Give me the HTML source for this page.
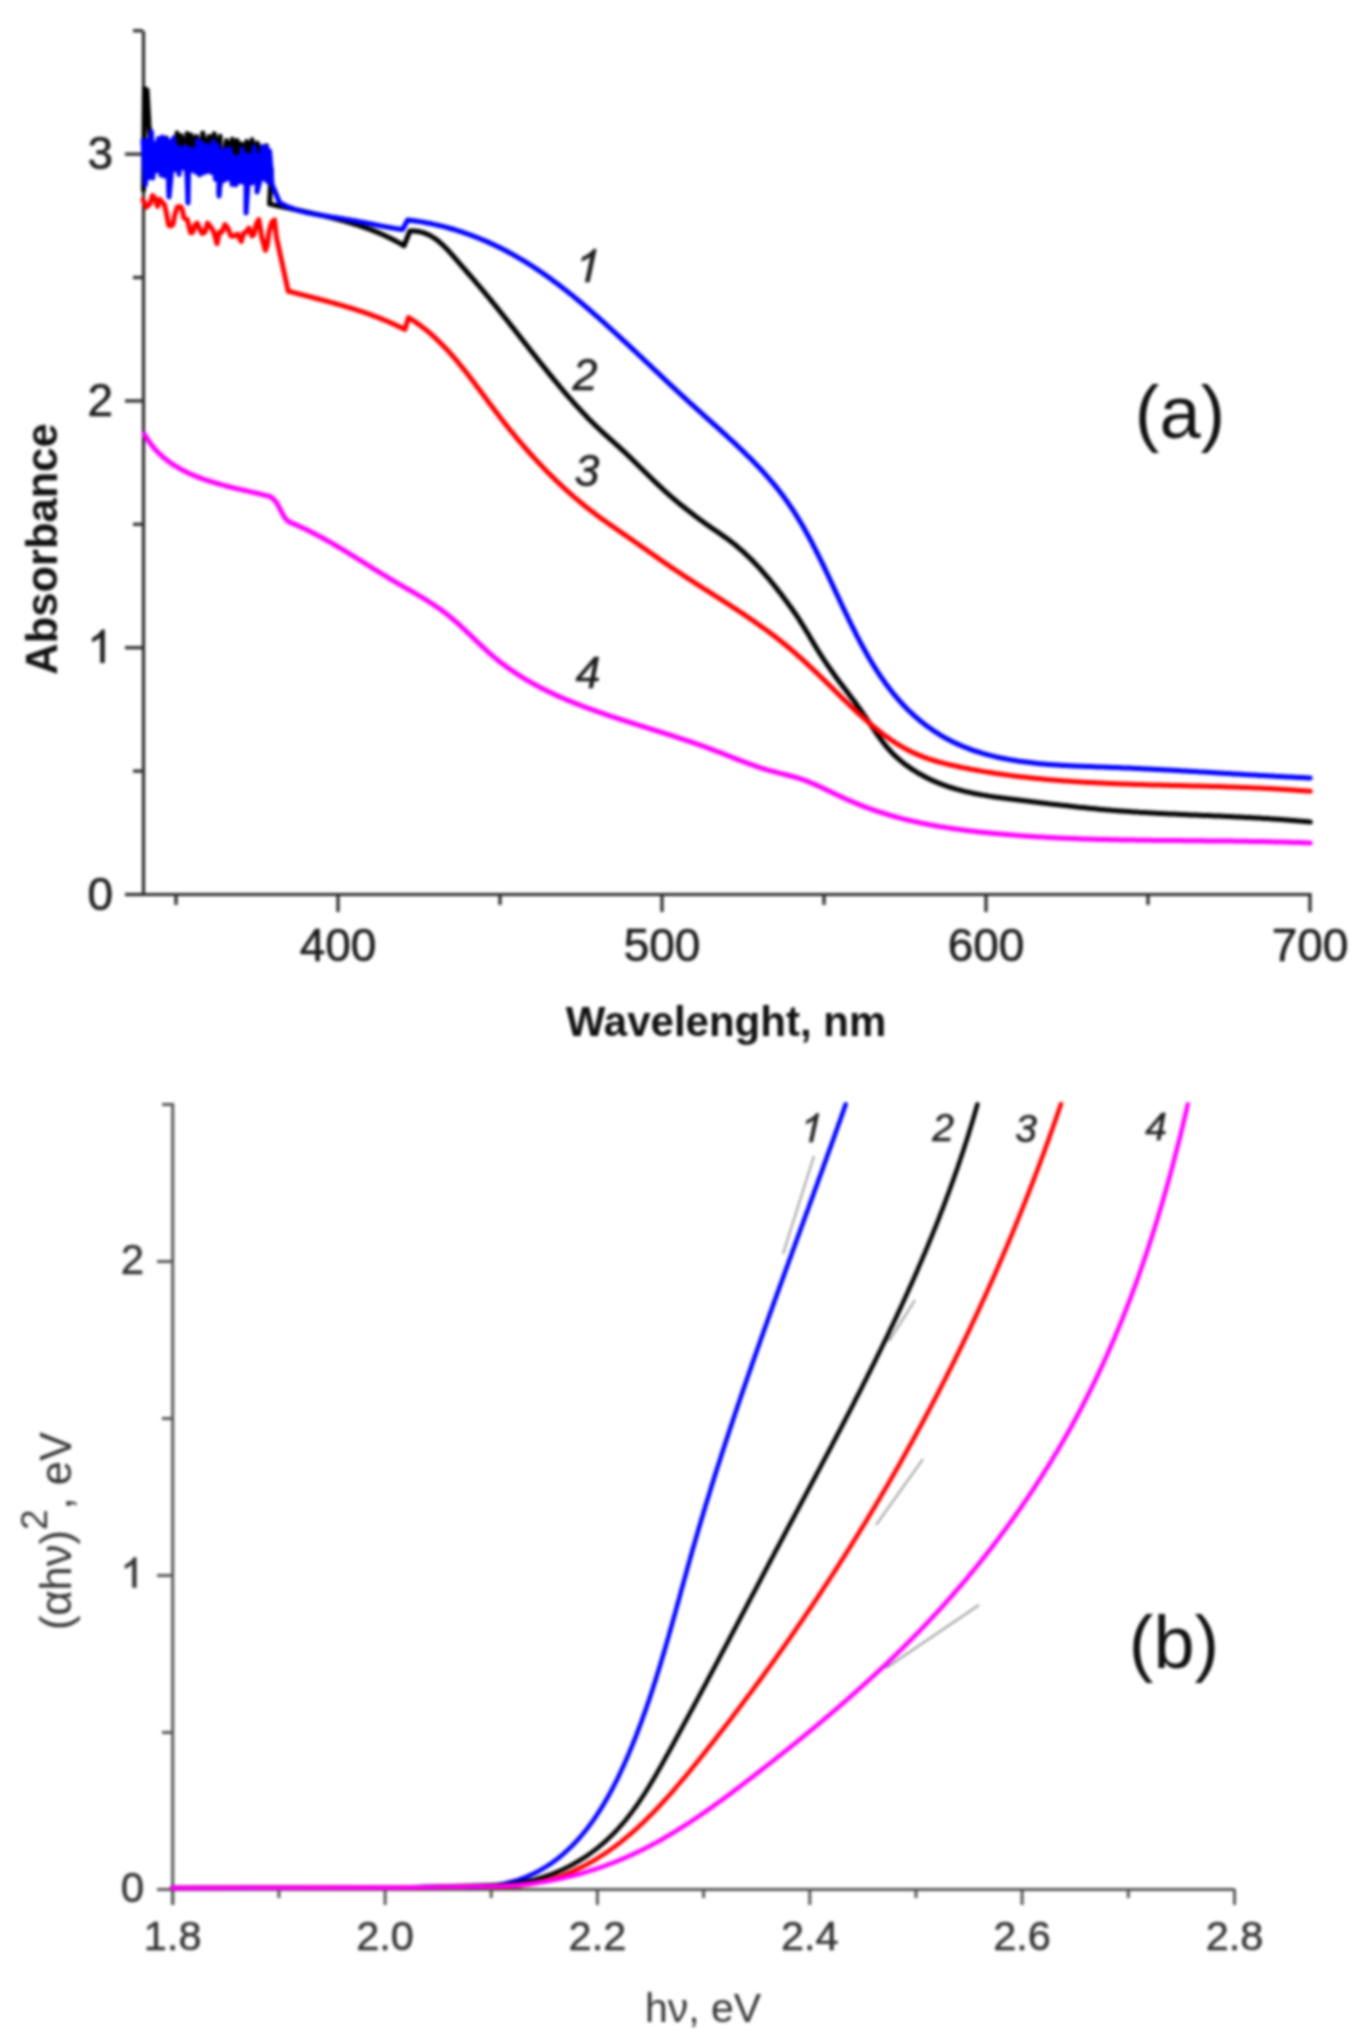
<!DOCTYPE html>
<html><head><meta charset="utf-8"><title>Absorbance spectra</title>
<style>html,body{margin:0;padding:0;background:#fff;}svg{display:block;filter:blur(1.5px);}</style>
</head><body>
<svg width="1364" height="2038" viewBox="0 0 1364 2038">
<rect width="1364" height="2038" fill="#ffffff"/>
<g stroke="#2a2a2a" stroke-width="3.2" fill="none" stroke-linecap="butt">
<path d="M143.5,31 V896 M125,894.5 H1311.5"/>
<path d="M125,894.5 H143"/>
<path d="M125,647.7 H143"/>
<path d="M125,400.9 H143"/>
<path d="M125,154.1 H143"/>
<path d="M133,771.1 H143"/>
<path d="M133,524.3 H143"/>
<path d="M133,277.5 H143"/>
<path d="M133,30.7 H143"/>
<path d="M338.0,894 V912"/>
<path d="M662.0,894 V912"/>
<path d="M986.0,894 V912"/>
<path d="M1310.0,894 V912"/>
<path d="M176.0,894 V905"/>
<path d="M500.0,894 V905"/>
<path d="M824.0,894 V905"/>
<path d="M1148.0,894 V905"/>
</g>
<path d="M144.4,434.2 L145.5,436.0 L146.6,437.8 L147.7,439.6 L148.9,441.3 L150.1,443.0 L151.3,444.6 L152.6,446.2 L153.9,447.8 L155.2,449.3 L156.5,450.8 L157.9,452.2 L159.3,453.6 L160.8,454.9 L162.2,456.3 L163.7,457.6 L165.2,458.8 L166.8,460.0 L168.3,461.2 L169.9,462.4 L171.5,463.5 L173.2,464.6 L174.8,465.7 L176.5,466.7 L178.2,467.7 L179.9,468.7 L181.6,469.6 L183.4,470.6 L185.2,471.5 L186.9,472.3 L188.7,473.2 L190.6,474.0 L192.4,474.8 L194.2,475.6 L196.1,476.3 L198.0,477.1 L199.8,477.8 L201.7,478.5 L203.6,479.2 L205.6,479.8 L207.5,480.5 L209.4,481.1 L211.4,481.7 L213.3,482.3 L215.3,482.9 L217.2,483.5 L219.2,484.0 L221.2,484.6 L223.1,485.1 L225.1,485.7 L227.1,486.2 L229.1,486.7 L231.1,487.2 L233.0,487.7 L235.0,488.2 L237.0,488.6 L239.0,489.1 L241.0,489.6 L243.0,490.0 L244.9,490.5 L246.9,490.9 L248.9,491.4 L250.8,491.9 L252.8,492.3 L254.7,492.8 L256.7,493.2 L258.6,493.7 L260.5,494.1 L262.4,494.6 L264.3,495.1 L266.2,495.5 L268.1,496.0 L270.0,496.5 L271.8,497.7 L273.4,499.0 L274.8,500.4 L276.0,502.0 L277.1,503.7 L278.1,505.4 L279.1,507.2 L280.0,509.1 L280.9,510.9 L281.9,512.7 L282.8,514.5 L283.9,516.3 L285.1,517.9 L286.4,519.5 L287.9,520.9 L289.6,522.2 L291.4,522.9 L293.2,523.7 L295.0,524.4 L296.8,525.2 L298.6,526.0 L300.4,526.8 L302.2,527.6 L304.0,528.5 L305.8,529.3 L307.6,530.2 L309.4,531.1 L311.1,532.0 L312.9,532.9 L314.7,533.8 L316.5,534.7 L318.2,535.6 L320.0,536.6 L321.8,537.5 L323.5,538.5 L325.3,539.5 L327.0,540.5 L328.8,541.4 L330.6,542.4 L332.3,543.4 L334.1,544.5 L335.8,545.5 L337.5,546.5 L339.3,547.5 L341.0,548.6 L342.8,549.6 L344.5,550.7 L346.2,551.7 L348.0,552.8 L349.7,553.9 L351.4,554.9 L353.2,556.0 L354.9,557.1 L356.6,558.1 L358.3,559.2 L360.1,560.3 L361.8,561.3 L363.5,562.4 L365.2,563.5 L367.0,564.6 L368.7,565.6 L370.4,566.7 L372.1,567.8 L373.8,568.9 L375.5,569.9 L377.3,571.0 L379.0,572.0 L380.7,573.1 L382.4,574.2 L384.1,575.2 L385.8,576.2 L387.5,577.3 L389.2,578.3 L391.0,579.3 L392.7,580.3 L394.4,581.4 L396.1,582.4 L397.8,583.4 L399.5,584.3 L401.2,585.3 L402.9,586.3 L404.6,587.3 L406.3,588.3 L408.0,589.3 L409.7,590.2 L411.4,591.2 L413.1,592.2 L414.8,593.2 L416.5,594.2 L418.2,595.1 L419.9,596.1 L421.5,597.1 L423.2,598.1 L424.9,599.2 L426.5,600.2 L428.2,601.2 L429.8,602.3 L431.5,603.3 L433.1,604.4 L434.7,605.5 L436.4,606.6 L438.0,607.7 L439.6,608.8 L441.2,609.9 L442.8,611.1 L444.3,612.3 L445.9,613.5 L447.5,614.7 L449.0,615.9 L450.6,617.2 L452.1,618.5 L453.6,619.8 L455.2,621.1 L456.7,622.4 L458.2,623.7 L459.7,625.1 L461.2,626.5 L462.7,627.9 L464.2,629.3 L465.6,630.7 L467.1,632.1 L468.6,633.5 L470.1,634.9 L471.6,636.3 L473.0,637.7 L474.5,639.2 L476.0,640.6 L477.5,642.0 L479.0,643.4 L480.5,644.8 L482.0,646.2 L483.5,647.6 L485.0,649.0 L486.5,650.4 L488.0,651.8 L489.5,653.1 L491.0,654.5 L492.6,655.8 L494.1,657.1 L495.7,658.4 L497.3,659.7 L498.9,661.0 L500.4,662.2 L502.0,663.4 L503.6,664.6 L505.3,665.8 L506.9,667.0 L508.5,668.2 L510.2,669.3 L511.8,670.5 L513.5,671.6 L515.1,672.7 L516.8,673.8 L518.5,674.9 L520.2,676.0 L521.9,677.0 L523.6,678.1 L525.3,679.1 L527.0,680.1 L528.7,681.1 L530.4,682.1 L532.2,683.1 L533.9,684.0 L535.7,685.0 L537.4,685.9 L539.2,686.9 L541.0,687.8 L542.7,688.7 L544.5,689.6 L546.3,690.5 L548.1,691.4 L549.9,692.2 L551.7,693.1 L553.5,693.9 L555.3,694.8 L557.1,695.6 L558.9,696.4 L560.7,697.2 L562.6,698.0 L564.4,698.8 L566.2,699.6 L568.1,700.4 L569.9,701.1 L571.8,701.9 L573.6,702.6 L575.5,703.4 L577.3,704.1 L579.2,704.8 L581.0,705.5 L582.9,706.3 L584.8,707.0 L586.6,707.7 L588.5,708.4 L590.4,709.0 L592.3,709.7 L594.1,710.4 L596.0,711.1 L597.9,711.7 L599.8,712.4 L601.7,713.0 L603.6,713.7 L605.4,714.3 L607.3,715.0 L609.2,715.6 L611.1,716.3 L613.0,716.9 L614.9,717.5 L616.8,718.1 L618.7,718.7 L620.6,719.4 L622.5,720.0 L624.4,720.6 L626.3,721.2 L628.1,721.8 L630.0,722.4 L631.9,723.0 L633.8,723.6 L635.7,724.2 L637.6,724.8 L639.5,725.4 L641.4,726.0 L643.3,726.6 L645.2,727.2 L647.1,727.8 L649.0,728.4 L650.9,729.0 L652.8,729.6 L654.7,730.2 L656.6,730.8 L658.5,731.4 L660.4,732.0 L662.3,732.6 L664.2,733.2 L666.1,733.8 L668.0,734.4 L669.9,735.0 L671.8,735.6 L673.7,736.2 L675.6,736.8 L677.5,737.5 L679.4,738.1 L681.3,738.7 L683.2,739.3 L685.1,740.0 L687.0,740.6 L688.9,741.2 L690.8,741.9 L692.7,742.5 L694.6,743.2 L696.5,743.9 L698.4,744.5 L700.3,745.2 L702.2,745.9 L704.0,746.5 L705.9,747.2 L707.8,747.9 L709.7,748.6 L711.6,749.3 L713.5,750.0 L715.4,750.8 L717.3,751.5 L719.2,752.2 L721.1,752.9 L723.0,753.7 L724.8,754.4 L726.7,755.2 L728.6,755.9 L730.5,756.6 L732.4,757.4 L734.3,758.1 L736.2,758.9 L738.0,759.6 L739.9,760.3 L741.8,761.0 L743.7,761.8 L745.6,762.5 L747.5,763.2 L749.3,763.9 L751.2,764.5 L753.1,765.2 L755.0,765.9 L756.9,766.5 L758.8,767.2 L760.6,767.8 L762.5,768.4 L764.4,769.0 L766.3,769.6 L768.2,770.1 L770.0,770.7 L771.9,771.2 L773.8,771.7 L775.7,772.2 L777.6,772.7 L779.4,773.1 L781.3,773.6 L783.2,774.1 L785.1,774.5 L787.0,775.0 L788.8,775.5 L790.7,776.0 L792.6,776.5 L794.5,777.0 L796.4,777.5 L798.2,778.1 L800.1,778.7 L802.0,779.3 L803.9,780.0 L805.8,780.7 L807.6,781.4 L809.5,782.2 L811.4,783.0 L813.3,783.8 L815.2,784.6 L817.0,785.4 L818.9,786.2 L820.8,787.1 L822.7,788.0 L824.6,788.9 L826.5,789.8 L828.3,790.7 L830.2,791.6 L832.1,792.5 L834.0,793.4 L835.9,794.3 L837.8,795.2 L839.7,796.1 L841.5,796.9 L843.4,797.8 L845.3,798.7 L847.2,799.5 L849.1,800.4 L851.0,801.2 L852.9,802.0 L854.8,802.8 L856.7,803.6 L858.6,804.3 L860.4,805.1 L862.3,805.8 L864.2,806.6 L866.1,807.3 L868.0,808.0 L869.9,808.7 L871.8,809.3 L873.7,810.0 L875.6,810.7 L877.5,811.3 L879.4,811.9 L881.3,812.5 L883.2,813.1 L885.1,813.7 L887.0,814.3 L888.9,814.9 L890.8,815.5 L892.7,816.0 L894.6,816.5 L896.5,817.1 L898.5,817.6 L900.4,818.1 L902.3,818.6 L904.2,819.1 L906.1,819.6 L908.0,820.0 L909.9,820.5 L911.8,820.9 L913.8,821.4 L915.7,821.8 L917.6,822.2 L919.5,822.7 L921.4,823.1 L923.4,823.5 L925.3,823.8 L927.2,824.2 L929.1,824.6 L931.1,825.0 L933.0,825.3 L934.9,825.7 L936.8,826.0 L938.8,826.4 L940.7,826.7 L942.6,827.0 L944.6,827.3 L946.5,827.6 L948.5,827.9 L950.4,828.2 L952.3,828.5 L954.3,828.8 L956.2,829.1 L958.2,829.3 L960.1,829.6 L962.1,829.9 L964.0,830.1 L966.0,830.4 L967.9,830.6 L969.9,830.9 L971.8,831.1 L973.8,831.3 L975.7,831.5 L977.7,831.8 L979.7,832.0 L981.6,832.2 L983.6,832.4 L985.6,832.6 L987.5,832.8 L989.5,833.0 L991.5,833.2 L993.5,833.4 L995.4,833.6 L997.4,833.8 L999.4,834.0 L1001.4,834.1 L1003.4,834.3 L1005.3,834.5 L1007.3,834.6 L1009.3,834.8 L1011.3,835.0 L1013.3,835.1 L1015.3,835.3 L1017.3,835.4 L1019.3,835.6 L1021.3,835.7 L1023.2,835.9 L1025.2,836.0 L1027.2,836.2 L1029.2,836.3 L1031.2,836.4 L1033.2,836.5 L1035.2,836.7 L1037.2,836.8 L1039.2,836.9 L1041.3,837.0 L1043.3,837.1 L1045.3,837.3 L1047.3,837.4 L1049.3,837.5 L1051.3,837.6 L1053.3,837.7 L1055.3,837.8 L1057.3,837.9 L1059.3,838.0 L1061.4,838.1 L1063.4,838.2 L1065.4,838.2 L1067.4,838.3 L1069.4,838.4 L1071.4,838.5 L1073.5,838.6 L1075.5,838.6 L1077.5,838.7 L1079.5,838.8 L1081.5,838.9 L1083.6,838.9 L1085.6,839.0 L1087.6,839.1 L1089.6,839.1 L1091.7,839.2 L1093.7,839.2 L1095.7,839.3 L1097.7,839.4 L1099.8,839.4 L1101.8,839.5 L1103.8,839.5 L1105.8,839.6 L1107.9,839.6 L1109.9,839.7 L1111.9,839.7 L1113.9,839.8 L1116.0,839.8 L1118.0,839.8 L1120.0,839.9 L1122.1,839.9 L1124.1,840.0 L1126.1,840.0 L1128.1,840.0 L1130.2,840.1 L1132.2,840.1 L1134.2,840.1 L1136.3,840.2 L1138.3,840.2 L1140.3,840.2 L1142.4,840.2 L1144.4,840.3 L1146.4,840.3 L1148.4,840.3 L1150.5,840.3 L1152.5,840.4 L1154.5,840.4 L1156.6,840.4 L1158.6,840.4 L1160.6,840.5 L1162.6,840.5 L1164.7,840.5 L1166.7,840.5 L1168.7,840.5 L1170.7,840.6 L1172.8,840.6 L1174.8,840.6 L1176.8,840.6 L1178.8,840.6 L1180.9,840.6 L1182.9,840.7 L1184.9,840.7 L1186.9,840.7 L1189.0,840.7 L1191.0,840.7 L1193.0,840.7 L1195.0,840.8 L1197.0,840.8 L1199.1,840.8 L1201.1,840.8 L1203.1,840.8 L1205.1,840.9 L1207.1,840.9 L1209.1,840.9 L1211.1,840.9 L1213.2,840.9 L1215.2,840.9 L1217.2,841.0 L1219.2,841.0 L1221.2,841.0 L1223.2,841.0 L1225.2,841.0 L1227.2,841.1 L1229.2,841.1 L1231.2,841.1 L1233.2,841.1 L1235.2,841.2 L1237.2,841.2 L1239.2,841.2 L1241.2,841.2 L1243.2,841.3 L1245.2,841.3 L1247.2,841.3 L1249.2,841.4 L1251.2,841.4 L1253.2,841.4 L1255.2,841.5 L1257.2,841.5 L1259.2,841.5 L1261.2,841.6 L1263.1,841.6 L1265.1,841.6 L1267.1,841.7 L1269.1,841.7 L1271.1,841.8 L1273.0,841.8 L1275.0,841.9 L1277.0,841.9 L1279.0,842.0 L1280.9,842.0 L1282.9,842.1 L1284.9,842.1 L1286.8,842.2 L1288.8,842.2 L1290.8,842.3 L1292.7,842.4 L1294.7,842.4 L1296.6,842.5 L1298.6,842.6 L1300.6,842.6 L1302.5,842.7 L1304.5,842.8 L1306.4,842.8 L1308.4,842.9 L1310.3,843.0" fill="none" stroke="#ff00ff" stroke-width="5.0" stroke-linejoin="round" stroke-linecap="round"/>
<path d="M143.5,190.0 L144.5,88.8 L147.0,90.0 L149.0,125.0 L151.0,147.1 L154.3,159.1 L156.3,144.3 L159.2,166.2 L161.5,140.4 L164.3,164.4 L166.4,138.1 L168.8,164.8 L169.0,191.0 L172.2,142.8 L174.8,160.5 L177.1,133.1 L178.9,159.3 L181.2,135.7 L184.5,157.9 L187.2,133.5 L189.0,154.5 L191.0,135.0 L194.4,157.0 L196.5,136.5 L199.6,157.3 L202.8,133.0 L205.9,153.4 L209.2,136.5 L211.3,159.8 L214.2,133.8 L216.9,159.3 L220.1,136.2 L219.0,193.0 L223.3,158.5 L226.5,140.6 L229.0,160.7 L232.3,139.2 L234.8,157.7 L237.2,140.6 L239.2,164.7 L241.5,143.9 L243.8,165.5 L246.7,141.4 L249.3,163.0 L252.1,139.7 L254.2,161.8 L257.5,143.1 L259.4,166.4 L262.4,147.1 L264.5,168.0 L266.4,145.8 L271.3,170.0 L269.5,204.0 L271.5,204.4 L273.4,204.9 L275.4,205.3 L277.4,205.8 L279.3,206.2 L281.3,206.6 L283.3,207.1 L285.3,207.5 L287.3,207.9 L289.2,208.3 L291.2,208.8 L293.2,209.2 L295.2,209.6 L297.2,210.0 L299.1,210.4 L301.1,210.8 L303.1,211.3 L305.1,211.7 L307.1,212.1 L309.0,212.5 L311.0,213.0 L313.0,213.4 L315.0,213.9 L316.9,214.3 L318.9,214.7 L320.9,215.2 L322.9,215.6 L324.8,216.1 L326.8,216.6 L328.8,217.0 L330.7,217.5 L332.7,218.0 L334.6,218.5 L336.6,219.0 L338.6,219.5 L340.5,220.0 L342.4,220.6 L344.4,221.1 L346.3,221.7 L348.3,222.2 L350.2,222.8 L352.1,223.4 L354.1,224.0 L356.0,224.6 L357.9,225.2 L359.8,225.8 L361.7,226.4 L363.6,227.1 L365.5,227.8 L367.4,228.5 L369.3,229.2 L371.2,229.9 L373.1,230.6 L374.9,231.3 L376.8,232.1 L378.7,232.9 L380.5,233.7 L382.4,234.5 L384.2,235.3 L386.0,236.2 L387.9,237.0 L389.7,237.9 L391.5,238.8 L393.3,239.7 L395.1,240.7 L396.9,241.6 L398.7,242.6 L400.5,243.6 L402.2,244.7 L404.0,245.7 L409.9,231.0 L412.1,230.9 L414.2,231.0 L416.2,231.2 L418.2,231.5 L420.1,231.8 L422.0,232.3 L423.9,232.9 L425.7,233.6 L427.5,234.3 L429.2,235.1 L430.9,236.0 L432.5,237.0 L434.1,238.0 L435.7,239.1 L437.3,240.3 L438.8,241.5 L440.3,242.8 L441.8,244.1 L443.2,245.4 L444.6,246.8 L446.0,248.2 L447.4,249.6 L448.8,251.1 L450.1,252.6 L451.5,254.1 L452.8,255.6 L454.1,257.1 L455.4,258.6 L456.7,260.1 L458.0,261.6 L459.3,263.1 L460.6,264.6 L461.9,266.1 L463.2,267.6 L464.5,269.0 L465.7,270.5 L467.0,272.0 L468.3,273.5 L469.6,274.9 L470.8,276.4 L472.1,277.9 L473.4,279.4 L474.7,280.9 L475.9,282.3 L477.2,283.8 L478.5,285.3 L479.8,286.8 L481.0,288.3 L482.3,289.8 L483.6,291.3 L484.8,292.8 L486.1,294.3 L487.3,295.9 L488.6,297.4 L489.9,298.9 L491.1,300.5 L492.4,302.0 L493.6,303.5 L494.9,305.1 L496.1,306.6 L497.4,308.2 L498.6,309.7 L499.9,311.3 L501.1,312.9 L502.4,314.4 L503.6,316.0 L504.9,317.6 L506.1,319.2 L507.4,320.7 L508.6,322.3 L509.9,323.9 L511.1,325.5 L512.4,327.1 L513.6,328.6 L514.8,330.2 L516.1,331.8 L517.3,333.4 L518.6,335.0 L519.8,336.6 L521.1,338.2 L522.3,339.8 L523.6,341.3 L524.8,342.9 L526.0,344.5 L527.3,346.1 L528.5,347.7 L529.8,349.3 L531.0,350.9 L532.3,352.5 L533.5,354.1 L534.8,355.6 L536.0,357.2 L537.3,358.8 L538.5,360.4 L539.8,362.0 L541.0,363.5 L542.3,365.1 L543.5,366.7 L544.8,368.2 L546.1,369.8 L547.3,371.4 L548.6,372.9 L549.8,374.5 L551.1,376.0 L552.4,377.6 L553.6,379.1 L554.9,380.7 L556.2,382.2 L557.4,383.7 L558.7,385.2 L560.0,386.8 L561.3,388.3 L562.5,389.8 L563.8,391.3 L565.1,392.8 L566.4,394.3 L567.7,395.8 L569.0,397.3 L570.2,398.7 L571.5,400.2 L572.8,401.7 L574.1,403.1 L575.4,404.6 L576.7,406.0 L578.1,407.5 L579.4,408.9 L580.7,410.4 L582.0,411.8 L583.4,413.2 L584.7,414.6 L586.1,416.0 L587.4,417.5 L588.8,418.9 L590.2,420.3 L591.6,421.7 L593.0,423.1 L594.4,424.5 L595.8,425.9 L597.3,427.2 L598.7,428.6 L600.2,430.0 L601.7,431.4 L603.2,432.8 L604.7,434.2 L606.2,435.5 L607.8,436.9 L609.3,438.3 L610.8,439.7 L612.4,441.0 L613.9,442.4 L615.5,443.8 L617.0,445.2 L618.5,446.5 L620.0,447.9 L621.5,449.3 L623.0,450.7 L624.5,452.0 L626.0,453.4 L627.4,454.8 L628.9,456.2 L630.3,457.6 L631.7,458.9 L633.1,460.3 L634.5,461.7 L635.9,463.1 L637.3,464.5 L638.7,465.8 L640.1,467.2 L641.5,468.6 L642.9,470.0 L644.3,471.3 L645.7,472.7 L647.1,474.1 L648.5,475.5 L649.9,476.8 L651.3,478.2 L652.7,479.6 L654.1,480.9 L655.5,482.3 L656.9,483.7 L658.4,485.0 L659.8,486.4 L661.3,487.7 L662.7,489.1 L664.2,490.4 L665.7,491.8 L667.2,493.1 L668.7,494.5 L670.2,495.8 L671.7,497.1 L673.3,498.4 L674.8,499.8 L676.4,501.1 L677.9,502.4 L679.5,503.7 L681.1,505.0 L682.7,506.3 L684.3,507.5 L685.9,508.8 L687.5,510.1 L689.1,511.3 L690.7,512.6 L692.3,513.8 L693.9,515.1 L695.5,516.3 L697.1,517.5 L698.8,518.7 L700.4,519.9 L702.0,521.1 L703.6,522.3 L705.2,523.5 L706.9,524.6 L708.5,525.8 L710.1,526.9 L711.7,528.0 L713.4,529.1 L715.0,530.2 L716.6,531.3 L718.2,532.4 L719.8,533.5 L721.4,534.6 L723.0,535.7 L724.6,536.9 L726.2,538.0 L727.8,539.1 L729.3,540.3 L730.9,541.5 L732.5,542.7 L734.0,543.9 L735.6,545.2 L737.1,546.5 L738.6,547.8 L740.1,549.1 L741.6,550.4 L743.1,551.7 L744.6,553.1 L746.1,554.5 L747.6,555.9 L749.0,557.3 L750.4,558.7 L751.9,560.1 L753.3,561.5 L754.7,563.0 L756.1,564.4 L757.4,565.9 L758.8,567.4 L760.1,568.8 L761.5,570.3 L762.8,571.8 L764.1,573.3 L765.4,574.8 L766.7,576.4 L768.0,577.9 L769.3,579.4 L770.6,581.0 L771.8,582.5 L773.1,584.1 L774.4,585.6 L775.6,587.2 L776.9,588.8 L778.1,590.4 L779.3,591.9 L780.6,593.5 L781.8,595.1 L783.0,596.7 L784.2,598.4 L785.4,600.0 L786.6,601.6 L787.8,603.2 L789.0,604.9 L790.2,606.5 L791.4,608.1 L792.5,609.8 L793.7,611.4 L794.8,613.1 L796.0,614.7 L797.1,616.4 L798.2,618.0 L799.3,619.7 L800.3,621.4 L801.4,623.1 L802.4,624.7 L803.5,626.4 L804.5,628.1 L805.5,629.8 L806.5,631.4 L807.6,633.1 L808.6,634.8 L809.6,636.5 L810.6,638.2 L811.6,639.9 L812.6,641.5 L813.6,643.2 L814.6,644.9 L815.6,646.6 L816.6,648.3 L817.7,650.0 L818.7,651.6 L819.8,653.3 L820.8,655.0 L821.9,656.7 L823.0,658.3 L824.1,660.0 L825.2,661.7 L826.3,663.3 L827.5,665.0 L828.6,666.7 L829.8,668.3 L830.9,670.0 L832.1,671.6 L833.3,673.3 L834.4,674.9 L835.6,676.5 L836.8,678.2 L838.0,679.8 L839.2,681.4 L840.4,683.0 L841.6,684.6 L842.8,686.2 L844.1,687.8 L845.3,689.4 L846.5,691.0 L847.7,692.6 L848.9,694.2 L850.1,695.8 L851.3,697.4 L852.5,699.0 L853.7,700.5 L854.9,702.1 L856.0,703.7 L857.2,705.3 L858.3,706.9 L859.5,708.5 L860.6,710.0 L861.7,711.6 L862.8,713.2 L863.9,714.8 L865.0,716.4 L866.1,718.0 L867.2,719.6 L868.3,721.2 L869.4,722.8 L870.5,724.5 L871.6,726.1 L872.7,727.7 L873.8,729.4 L874.9,731.0 L876.0,732.6 L877.1,734.3 L878.3,735.9 L879.4,737.5 L880.6,739.1 L881.8,740.7 L883.0,742.3 L884.3,743.9 L885.5,745.5 L886.8,747.0 L888.1,748.5 L889.5,750.0 L890.8,751.5 L892.2,753.0 L893.6,754.4 L895.1,755.8 L896.6,757.2 L898.1,758.5 L899.6,759.8 L901.2,761.2 L902.7,762.4 L904.3,763.7 L905.9,764.9 L907.6,766.1 L909.2,767.3 L910.9,768.4 L912.6,769.6 L914.3,770.7 L916.0,771.7 L917.8,772.8 L919.5,773.8 L921.3,774.8 L923.1,775.8 L924.9,776.7 L926.7,777.7 L928.5,778.6 L930.3,779.4 L932.1,780.3 L933.9,781.1 L935.8,781.9 L937.6,782.7 L939.4,783.4 L941.3,784.1 L943.1,784.8 L945.0,785.5 L946.9,786.1 L948.7,786.8 L950.6,787.4 L952.5,788.0 L954.4,788.5 L956.2,789.1 L958.1,789.6 L960.0,790.1 L961.9,790.6 L963.8,791.1 L965.8,791.6 L967.7,792.0 L969.6,792.4 L971.5,792.9 L973.4,793.3 L975.4,793.7 L977.3,794.0 L979.2,794.4 L981.2,794.8 L983.1,795.1 L985.1,795.4 L987.0,795.8 L989.0,796.1 L990.9,796.4 L992.9,796.7 L994.9,797.0 L996.8,797.2 L998.8,797.5 L1000.8,797.8 L1002.7,798.0 L1004.7,798.3 L1006.7,798.6 L1008.7,798.8 L1010.7,799.1 L1012.7,799.3 L1014.7,799.6 L1016.6,799.8 L1018.6,800.0 L1020.6,800.3 L1022.6,800.5 L1024.6,800.8 L1026.6,801.0 L1028.6,801.2 L1030.6,801.5 L1032.7,801.7 L1034.7,802.0 L1036.7,802.2 L1038.7,802.5 L1040.7,802.7 L1042.7,803.0 L1044.7,803.2 L1046.7,803.4 L1048.8,803.7 L1050.8,803.9 L1052.8,804.2 L1054.8,804.4 L1056.8,804.6 L1058.8,804.9 L1060.9,805.1 L1062.9,805.4 L1064.9,805.6 L1066.9,805.8 L1068.9,806.0 L1071.0,806.3 L1073.0,806.5 L1075.0,806.7 L1077.0,806.9 L1079.0,807.2 L1081.1,807.4 L1083.1,807.6 L1085.1,807.8 L1087.1,808.0 L1089.1,808.2 L1091.1,808.4 L1093.2,808.6 L1095.2,808.8 L1097.2,809.0 L1099.2,809.2 L1101.2,809.4 L1103.2,809.6 L1105.2,809.7 L1107.2,809.9 L1109.2,810.1 L1111.2,810.3 L1113.2,810.4 L1115.2,810.6 L1117.2,810.7 L1119.2,810.9 L1121.2,811.0 L1123.2,811.2 L1125.2,811.3 L1127.2,811.5 L1129.2,811.6 L1131.2,811.7 L1133.1,811.9 L1135.1,812.0 L1137.1,812.1 L1139.1,812.3 L1141.1,812.4 L1143.1,812.5 L1145.1,812.6 L1147.0,812.7 L1149.0,812.8 L1151.0,813.0 L1153.0,813.1 L1155.0,813.2 L1156.9,813.3 L1158.9,813.4 L1160.9,813.5 L1162.9,813.6 L1164.8,813.7 L1166.8,813.8 L1168.8,813.9 L1170.8,814.0 L1172.8,814.1 L1174.7,814.1 L1176.7,814.2 L1178.7,814.3 L1180.6,814.4 L1182.6,814.5 L1184.6,814.6 L1186.6,814.7 L1188.5,814.8 L1190.5,814.9 L1192.5,814.9 L1194.5,815.0 L1196.4,815.1 L1198.4,815.2 L1200.4,815.3 L1202.4,815.4 L1204.3,815.4 L1206.3,815.5 L1208.3,815.6 L1210.3,815.7 L1212.2,815.8 L1214.2,815.9 L1216.2,816.0 L1218.2,816.0 L1220.2,816.1 L1222.1,816.2 L1224.1,816.3 L1226.1,816.4 L1228.1,816.5 L1230.1,816.6 L1232.0,816.7 L1234.0,816.8 L1236.0,816.9 L1238.0,817.0 L1240.0,817.1 L1242.0,817.2 L1243.9,817.3 L1245.9,817.4 L1247.9,817.5 L1249.9,817.6 L1251.9,817.7 L1253.9,817.8 L1255.9,817.9 L1257.9,818.0 L1259.9,818.1 L1261.9,818.3 L1263.9,818.4 L1265.9,818.5 L1267.9,818.6 L1269.9,818.8 L1271.9,818.9 L1273.9,819.0 L1275.9,819.2 L1277.9,819.3 L1279.9,819.4 L1281.9,819.6 L1284.0,819.7 L1286.0,819.9 L1288.0,820.0 L1290.0,820.2 L1292.0,820.4 L1294.0,820.5 L1296.1,820.7 L1298.1,820.9 L1300.1,821.1 L1302.2,821.2 L1304.2,821.4 L1306.2,821.6 L1308.3,821.8 L1310.3,822.0" fill="none" stroke="#000000" stroke-width="5.0" stroke-linejoin="round" stroke-linecap="round"/>
<path d="M143.0,199.8 L146.5,207.1 L150.0,204.0 L152.5,195.5 L155.0,198.0 L157.6,206.4 L159.8,199.3 L162.0,202.0 L164.2,204.2 L166.4,213.0 L168.6,225.1 L170.8,226.0 L172.9,224.6 L175.0,214.0 L177.3,207.2 L179.6,206.4 L181.8,208.0 L184.0,218.0 L187.3,219.6 L190.6,232.7 L192.8,232.3 L195.0,225.0 L197.2,223.2 L199.4,228.3 L202.2,233.5 L205.0,232.0 L207.5,223.1 L210.0,226.0 L213.5,231.2 L217.0,243.7 L219.5,232.0 L222.0,232.0 L225.0,224.5 L228.0,228.3 L231.0,236.1 L234.0,236.0 L237.6,234.1 L241.2,241.5 L243.6,233.2 L246.0,232.0 L249.0,228.1 L252.0,236.0 L254.0,234.4 L256.0,225.0 L258.8,219.5 L262.0,238.0 L265.4,250.3 L267.2,245.4 L269.0,232.0 L272.0,221.7 L274.5,220.0 L276.4,237.0 L288.2,291.2 L290.2,291.7 L292.1,292.2 L294.1,292.7 L296.0,293.2 L298.0,293.7 L299.9,294.2 L301.9,294.7 L303.8,295.2 L305.8,295.7 L307.7,296.2 L309.7,296.7 L311.6,297.2 L313.6,297.7 L315.6,298.2 L317.5,298.8 L319.5,299.3 L321.4,299.8 L323.4,300.3 L325.3,300.8 L327.3,301.3 L329.2,301.9 L331.2,302.4 L333.1,302.9 L335.1,303.5 L337.0,304.0 L338.9,304.6 L340.9,305.1 L342.8,305.7 L344.8,306.3 L346.7,306.9 L348.6,307.4 L350.5,308.0 L352.5,308.6 L354.4,309.2 L356.3,309.8 L358.2,310.5 L360.1,311.1 L362.1,311.7 L364.0,312.4 L365.9,313.0 L367.8,313.7 L369.7,314.4 L371.6,315.1 L373.5,315.8 L375.3,316.5 L377.2,317.2 L379.1,317.9 L381.0,318.7 L382.8,319.4 L384.7,320.2 L386.6,321.0 L388.4,321.8 L390.3,322.6 L392.1,323.4 L394.0,324.2 L395.8,325.1 L397.6,325.9 L399.5,326.8 L401.3,327.7 L403.1,328.6 L404.9,329.5 L408.5,317.5 L410.2,318.6 L412.0,319.7 L413.6,320.8 L415.3,321.9 L417.0,323.1 L418.6,324.2 L420.2,325.4 L421.8,326.6 L423.4,327.9 L425.0,329.1 L426.5,330.3 L428.1,331.6 L429.6,332.9 L431.1,334.2 L432.6,335.5 L434.0,336.8 L435.5,338.2 L436.9,339.5 L438.3,340.9 L439.8,342.3 L441.2,343.7 L442.5,345.1 L443.9,346.5 L445.3,347.9 L446.6,349.3 L448.0,350.8 L449.3,352.2 L450.6,353.7 L451.9,355.2 L453.2,356.7 L454.5,358.2 L455.8,359.7 L457.1,361.2 L458.4,362.7 L459.6,364.2 L460.9,365.8 L462.2,367.3 L463.4,368.9 L464.6,370.4 L465.9,372.0 L467.1,373.5 L468.3,375.1 L469.6,376.7 L470.8,378.3 L472.0,379.9 L473.2,381.5 L474.4,383.1 L475.6,384.7 L476.8,386.3 L478.0,387.9 L479.2,389.5 L480.4,391.1 L481.6,392.7 L482.8,394.3 L484.0,395.9 L485.2,397.5 L486.4,399.1 L487.6,400.8 L488.8,402.4 L490.0,404.0 L491.2,405.6 L492.5,407.2 L493.7,408.8 L494.9,410.4 L496.1,412.0 L497.3,413.6 L498.5,415.2 L499.8,416.8 L501.0,418.4 L502.2,420.0 L503.5,421.6 L504.7,423.2 L506.0,424.8 L507.2,426.3 L508.5,427.9 L509.7,429.5 L511.0,431.1 L512.3,432.6 L513.6,434.2 L514.8,435.7 L516.1,437.3 L517.4,438.8 L518.7,440.3 L520.0,441.9 L521.3,443.4 L522.6,444.9 L523.9,446.5 L525.3,448.0 L526.6,449.5 L527.9,451.0 L529.2,452.5 L530.6,454.0 L531.9,455.5 L533.3,457.0 L534.6,458.4 L536.0,459.9 L537.3,461.4 L538.7,462.8 L540.1,464.3 L541.5,465.7 L542.8,467.2 L544.2,468.6 L545.6,470.1 L547.0,471.5 L548.4,472.9 L549.8,474.3 L551.2,475.7 L552.7,477.1 L554.1,478.5 L555.5,479.9 L556.9,481.3 L558.4,482.7 L559.8,484.0 L561.3,485.4 L562.7,486.8 L564.2,488.1 L565.7,489.5 L567.1,490.8 L568.6,492.1 L570.1,493.4 L571.6,494.8 L573.1,496.1 L574.6,497.4 L576.1,498.6 L577.6,499.9 L579.1,501.2 L580.7,502.5 L582.2,503.7 L583.7,505.0 L585.3,506.2 L586.8,507.5 L588.4,508.7 L589.9,509.9 L591.5,511.1 L593.1,512.3 L594.7,513.5 L596.3,514.7 L597.8,515.9 L599.4,517.1 L601.0,518.2 L602.6,519.4 L604.3,520.5 L605.9,521.7 L607.5,522.8 L609.1,524.0 L610.7,525.1 L612.4,526.3 L614.0,527.4 L615.6,528.5 L617.3,529.7 L618.9,530.8 L620.5,531.9 L622.2,533.1 L623.8,534.2 L625.5,535.3 L627.1,536.5 L628.8,537.6 L630.4,538.7 L632.1,539.9 L633.7,541.0 L635.4,542.2 L637.0,543.3 L638.7,544.5 L640.3,545.7 L642.0,546.8 L643.6,548.0 L645.3,549.1 L646.9,550.3 L648.6,551.5 L650.2,552.6 L651.9,553.8 L653.5,555.0 L655.2,556.1 L656.8,557.3 L658.5,558.4 L660.1,559.6 L661.8,560.8 L663.5,561.9 L665.1,563.1 L666.8,564.2 L668.5,565.3 L670.1,566.5 L671.8,567.6 L673.5,568.8 L675.1,569.9 L676.8,571.0 L678.5,572.1 L680.2,573.2 L681.8,574.3 L683.5,575.5 L685.2,576.6 L686.9,577.7 L688.6,578.8 L690.3,579.8 L691.9,580.9 L693.6,582.0 L695.3,583.1 L697.0,584.2 L698.7,585.3 L700.4,586.3 L702.0,587.4 L703.7,588.5 L705.4,589.6 L707.1,590.7 L708.8,591.7 L710.5,592.8 L712.2,593.9 L713.8,594.9 L715.5,596.0 L717.2,597.1 L718.9,598.2 L720.6,599.2 L722.2,600.3 L723.9,601.4 L725.6,602.5 L727.3,603.5 L728.9,604.6 L730.6,605.7 L732.3,606.8 L733.9,607.9 L735.6,609.0 L737.3,610.0 L738.9,611.1 L740.6,612.2 L742.2,613.3 L743.9,614.4 L745.5,615.5 L747.2,616.7 L748.8,617.8 L750.5,618.9 L752.1,620.0 L753.7,621.1 L755.4,622.3 L757.0,623.4 L758.6,624.6 L760.2,625.7 L761.9,626.9 L763.5,628.0 L765.1,629.2 L766.7,630.3 L768.3,631.5 L769.9,632.7 L771.5,633.9 L773.1,635.1 L774.6,636.3 L776.2,637.5 L777.8,638.7 L779.3,640.0 L780.9,641.2 L782.5,642.5 L784.0,643.7 L785.6,645.0 L787.1,646.2 L788.6,647.5 L790.2,648.8 L791.7,650.1 L793.2,651.4 L794.7,652.7 L796.2,654.0 L797.7,655.4 L799.2,656.7 L800.7,658.0 L802.2,659.4 L803.7,660.7 L805.2,662.1 L806.6,663.5 L808.1,664.8 L809.6,666.2 L811.0,667.6 L812.5,669.0 L814.0,670.3 L815.4,671.7 L816.9,673.1 L818.3,674.5 L819.8,675.9 L821.2,677.3 L822.7,678.7 L824.1,680.1 L825.5,681.5 L827.0,682.9 L828.4,684.3 L829.8,685.7 L831.3,687.1 L832.7,688.5 L834.1,689.9 L835.5,691.4 L837.0,692.8 L838.4,694.2 L839.8,695.6 L841.3,697.0 L842.7,698.4 L844.1,699.8 L845.6,701.1 L847.0,702.5 L848.4,703.9 L849.9,705.3 L851.3,706.7 L852.8,708.1 L854.2,709.4 L855.7,710.8 L857.1,712.2 L858.6,713.5 L860.1,714.9 L861.6,716.2 L863.1,717.5 L864.6,718.9 L866.1,720.2 L867.6,721.5 L869.1,722.8 L870.6,724.1 L872.1,725.4 L873.7,726.7 L875.2,728.0 L876.8,729.2 L878.4,730.5 L879.9,731.7 L881.5,733.0 L883.1,734.2 L884.7,735.4 L886.3,736.6 L888.0,737.7 L889.6,738.9 L891.2,740.0 L892.9,741.1 L894.6,742.2 L896.2,743.3 L897.9,744.4 L899.6,745.4 L901.3,746.4 L903.0,747.4 L904.8,748.4 L906.5,749.3 L908.2,750.2 L910.0,751.1 L911.8,752.0 L913.5,752.8 L915.3,753.6 L917.1,754.4 L919.0,755.2 L920.8,755.9 L922.6,756.6 L924.4,757.3 L926.3,758.0 L928.2,758.6 L930.0,759.3 L931.9,759.9 L933.8,760.5 L935.7,761.0 L937.6,761.6 L939.5,762.1 L941.4,762.6 L943.3,763.1 L945.2,763.6 L947.1,764.1 L949.1,764.6 L951.0,765.0 L952.9,765.5 L954.9,765.9 L956.8,766.3 L958.8,766.8 L960.7,767.2 L962.7,767.6 L964.6,768.0 L966.6,768.3 L968.5,768.7 L970.5,769.1 L972.5,769.5 L974.4,769.8 L976.4,770.2 L978.4,770.5 L980.3,770.9 L982.3,771.2 L984.3,771.6 L986.3,771.9 L988.2,772.2 L990.2,772.5 L992.2,772.8 L994.2,773.2 L996.2,773.5 L998.2,773.7 L1000.1,774.0 L1002.1,774.3 L1004.1,774.6 L1006.1,774.9 L1008.1,775.1 L1010.1,775.4 L1012.1,775.7 L1014.1,775.9 L1016.1,776.2 L1018.1,776.4 L1020.1,776.7 L1022.1,776.9 L1024.1,777.1 L1026.1,777.3 L1028.1,777.6 L1030.1,777.8 L1032.1,778.0 L1034.1,778.2 L1036.1,778.4 L1038.1,778.6 L1040.1,778.8 L1042.2,779.0 L1044.2,779.2 L1046.2,779.4 L1048.2,779.6 L1050.2,779.7 L1052.2,779.9 L1054.2,780.1 L1056.2,780.2 L1058.2,780.4 L1060.3,780.5 L1062.3,780.7 L1064.3,780.9 L1066.3,781.0 L1068.3,781.1 L1070.3,781.3 L1072.3,781.4 L1074.4,781.6 L1076.4,781.7 L1078.4,781.8 L1080.4,781.9 L1082.4,782.1 L1084.4,782.2 L1086.4,782.3 L1088.5,782.4 L1090.5,782.5 L1092.5,782.6 L1094.5,782.7 L1096.5,782.8 L1098.5,782.9 L1100.5,783.0 L1102.5,783.1 L1104.6,783.2 L1106.6,783.3 L1108.6,783.4 L1110.6,783.5 L1112.6,783.6 L1114.6,783.7 L1116.6,783.7 L1118.6,783.8 L1120.6,783.9 L1122.6,784.0 L1124.6,784.0 L1126.6,784.1 L1128.6,784.2 L1130.6,784.2 L1132.6,784.3 L1134.6,784.4 L1136.6,784.4 L1138.6,784.5 L1140.6,784.6 L1142.6,784.6 L1144.6,784.7 L1146.6,784.7 L1148.6,784.8 L1150.6,784.9 L1152.6,784.9 L1154.5,785.0 L1156.5,785.0 L1158.5,785.1 L1160.5,785.1 L1162.5,785.2 L1164.5,785.2 L1166.5,785.3 L1168.4,785.3 L1170.4,785.4 L1172.4,785.4 L1174.4,785.5 L1176.4,785.5 L1178.4,785.6 L1180.3,785.6 L1182.3,785.7 L1184.3,785.7 L1186.3,785.8 L1188.3,785.8 L1190.3,785.9 L1192.2,785.9 L1194.2,786.0 L1196.2,786.0 L1198.2,786.1 L1200.2,786.1 L1202.2,786.2 L1204.1,786.2 L1206.1,786.3 L1208.1,786.3 L1210.1,786.4 L1212.1,786.4 L1214.0,786.5 L1216.0,786.5 L1218.0,786.6 L1220.0,786.6 L1222.0,786.7 L1224.0,786.8 L1226.0,786.8 L1227.9,786.9 L1229.9,787.0 L1231.9,787.0 L1233.9,787.1 L1235.9,787.2 L1237.9,787.2 L1239.9,787.3 L1241.9,787.4 L1243.9,787.5 L1245.9,787.5 L1247.8,787.6 L1249.8,787.7 L1251.8,787.8 L1253.8,787.9 L1255.8,787.9 L1257.8,788.0 L1259.8,788.1 L1261.8,788.2 L1263.8,788.3 L1265.8,788.4 L1267.8,788.5 L1269.9,788.6 L1271.9,788.7 L1273.9,788.8 L1275.9,788.9 L1277.9,789.1 L1279.9,789.2 L1281.9,789.3 L1283.9,789.4 L1286.0,789.5 L1288.0,789.7 L1290.0,789.8 L1292.0,789.9 L1294.0,790.1 L1296.1,790.2 L1298.1,790.4 L1300.1,790.5 L1302.2,790.7 L1304.2,790.8 L1306.2,791.0 L1308.3,791.1 L1310.3,791.3" fill="none" stroke="#ff0000" stroke-width="5.0" stroke-linejoin="round" stroke-linecap="round"/>
<path d="M143.0,140.2 L145.4,184.7 L147.1,140.6 L149.1,177.8 L151.4,131.6 L152.8,177.9 L154.8,143.4 L156.2,170.9 L158.4,138.6 L161.0,175.0 L162.4,137.0 L164.5,176.2 L166.3,138.8 L168.2,165.5 L169.0,197.0 L169.9,141.2 L169.0,197.0 L171.9,168.5 L173.6,138.0 L175.5,169.7 L176.9,146.4 L179.0,174.4 L180.6,149.2 L183.1,168.0 L184.9,146.6 L187.1,178.2 L188.0,203.0 L189.0,148.8 L191.2,170.5 L193.3,149.7 L195.7,172.2 L197.8,140.4 L199.5,174.9 L201.4,142.4 L203.5,173.1 L205.7,145.0 L207.6,171.6 L210.0,146.7 L211.8,172.6 L213.3,141.5 L215.5,179.3 L217.6,145.6 L219.2,174.8 L219.0,196.0 L221.8,151.0 L223.9,180.6 L225.5,149.6 L228.1,178.8 L230.0,148.8 L232.1,184.5 L233.5,156.3 L235.9,184.9 L238.2,157.5 L240.2,181.9 L242.1,149.1 L244.5,182.8 L246.2,154.7 L246.0,213.0 L248.2,181.0 L250.0,155.5 L252.1,183.0 L254.1,147.3 L255.8,175.5 L257.9,155.1 L257.0,192.0 L260.2,179.9 L262.6,146.4 L265.0,179.2 L266.5,147.1 L267.9,182.0 L269.6,150.9 L272.0,184.4 L279.4,202.3 L281.2,203.4 L283.0,204.4 L284.8,205.3 L286.7,206.2 L288.5,207.0 L290.3,207.7 L292.2,208.4 L294.1,209.1 L295.9,209.7 L297.8,210.3 L299.7,210.9 L301.6,211.4 L303.5,211.8 L305.4,212.3 L307.3,212.7 L309.3,213.1 L311.2,213.5 L313.1,213.9 L315.1,214.2 L317.0,214.6 L319.0,214.9 L321.0,215.3 L322.9,215.6 L324.9,215.9 L326.9,216.2 L328.9,216.5 L330.8,216.9 L332.8,217.2 L334.8,217.5 L336.8,217.8 L338.8,218.1 L340.8,218.4 L342.8,218.7 L344.8,219.1 L346.8,219.4 L348.8,219.7 L350.8,220.1 L352.8,220.5 L354.8,220.8 L356.8,221.2 L358.9,221.6 L360.9,222.0 L362.9,222.3 L364.9,222.7 L366.9,223.1 L368.9,223.5 L370.9,223.9 L372.9,224.3 L374.9,224.7 L376.9,225.1 L378.9,225.5 L380.9,225.9 L382.9,226.2 L384.8,226.6 L386.8,227.0 L388.8,227.3 L390.8,227.7 L392.7,228.0 L394.7,228.4 L396.7,228.7 L398.6,229.0 L400.6,229.3 L402.5,229.6 L407.7,220.0 L409.7,220.2 L411.6,220.5 L413.6,220.7 L415.6,221.0 L417.5,221.3 L419.5,221.6 L421.5,221.9 L423.4,222.2 L425.4,222.6 L427.3,223.0 L429.3,223.3 L431.2,223.7 L433.2,224.1 L435.1,224.6 L437.1,225.0 L439.0,225.5 L440.9,225.9 L442.9,226.4 L444.8,226.9 L446.7,227.4 L448.6,228.0 L450.5,228.5 L452.5,229.0 L454.4,229.6 L456.3,230.2 L458.2,230.8 L460.1,231.4 L462.0,232.0 L463.9,232.7 L465.7,233.3 L467.6,234.0 L469.5,234.7 L471.4,235.3 L473.2,236.0 L475.1,236.8 L477.0,237.5 L478.8,238.2 L480.7,239.0 L482.5,239.8 L484.4,240.5 L486.2,241.3 L488.0,242.1 L489.8,242.9 L491.7,243.8 L493.5,244.6 L495.3,245.5 L497.1,246.3 L498.9,247.2 L500.7,248.1 L502.5,249.0 L504.2,249.9 L506.0,250.8 L507.8,251.8 L509.5,252.7 L511.3,253.6 L513.0,254.6 L514.8,255.6 L516.5,256.6 L518.2,257.6 L520.0,258.6 L521.7,259.6 L523.4,260.6 L525.1,261.7 L526.8,262.7 L528.5,263.8 L530.2,264.8 L531.8,265.9 L533.5,267.0 L535.2,268.1 L536.8,269.2 L538.5,270.3 L540.2,271.4 L541.8,272.6 L543.4,273.7 L545.1,274.8 L546.7,276.0 L548.3,277.1 L550.0,278.3 L551.6,279.5 L553.2,280.7 L554.8,281.9 L556.4,283.1 L558.0,284.3 L559.6,285.5 L561.2,286.7 L562.8,287.9 L564.3,289.1 L565.9,290.4 L567.5,291.6 L569.0,292.9 L570.6,294.1 L572.2,295.4 L573.7,296.6 L575.3,297.9 L576.8,299.2 L578.4,300.5 L579.9,301.7 L581.4,303.0 L583.0,304.3 L584.5,305.6 L586.0,306.9 L587.5,308.2 L589.1,309.5 L590.6,310.8 L592.1,312.1 L593.6,313.5 L595.1,314.8 L596.6,316.1 L598.1,317.4 L599.6,318.7 L601.1,320.1 L602.6,321.4 L604.1,322.7 L605.5,324.1 L607.0,325.4 L608.5,326.8 L610.0,328.1 L611.5,329.5 L612.9,330.8 L614.4,332.1 L615.9,333.5 L617.3,334.8 L618.8,336.2 L620.3,337.6 L621.7,338.9 L623.2,340.3 L624.7,341.6 L626.1,343.0 L627.6,344.3 L629.0,345.7 L630.5,347.1 L631.9,348.4 L633.4,349.8 L634.9,351.2 L636.3,352.5 L637.8,353.9 L639.2,355.3 L640.7,356.6 L642.1,358.0 L643.6,359.4 L645.0,360.8 L646.5,362.1 L647.9,363.5 L649.4,364.9 L650.8,366.2 L652.3,367.6 L653.7,369.0 L655.2,370.4 L656.6,371.7 L658.1,373.1 L659.5,374.5 L661.0,375.8 L662.4,377.2 L663.9,378.6 L665.3,380.0 L666.8,381.3 L668.3,382.7 L669.7,384.1 L671.2,385.4 L672.6,386.8 L674.1,388.2 L675.6,389.5 L677.0,390.9 L678.5,392.3 L680.0,393.6 L681.4,395.0 L682.9,396.3 L684.4,397.7 L685.9,399.1 L687.4,400.4 L688.8,401.8 L690.3,403.1 L691.8,404.5 L693.3,405.8 L694.8,407.2 L696.3,408.5 L697.8,409.9 L699.3,411.2 L700.8,412.6 L702.3,413.9 L703.8,415.3 L705.3,416.6 L706.8,418.0 L708.3,419.3 L709.8,420.7 L711.3,422.0 L712.8,423.3 L714.3,424.7 L715.8,426.0 L717.3,427.4 L718.8,428.7 L720.3,430.1 L721.8,431.5 L723.3,432.8 L724.8,434.2 L726.3,435.5 L727.8,436.9 L729.2,438.3 L730.7,439.6 L732.2,441.0 L733.7,442.4 L735.1,443.7 L736.6,445.1 L738.1,446.5 L739.5,447.9 L741.0,449.3 L742.4,450.7 L743.9,452.1 L745.3,453.5 L746.7,454.9 L748.1,456.3 L749.6,457.7 L751.0,459.1 L752.4,460.5 L753.8,462.0 L755.2,463.4 L756.5,464.8 L757.9,466.3 L759.3,467.7 L760.7,469.2 L762.0,470.7 L763.4,472.1 L764.7,473.6 L766.0,475.1 L767.3,476.6 L768.6,478.1 L769.9,479.6 L771.2,481.1 L772.5,482.6 L773.8,484.1 L775.0,485.6 L776.3,487.2 L777.5,488.7 L778.8,490.3 L780.0,491.8 L781.2,493.4 L782.4,495.0 L783.6,496.6 L784.7,498.2 L785.9,499.8 L787.0,501.4 L788.2,503.0 L789.3,504.7 L790.4,506.3 L791.5,507.9 L792.6,509.6 L793.7,511.2 L794.7,512.9 L795.8,514.6 L796.9,516.3 L797.9,518.0 L798.9,519.7 L800.0,521.4 L801.0,523.1 L802.0,524.8 L803.0,526.5 L804.0,528.2 L805.0,530.0 L805.9,531.7 L806.9,533.4 L807.9,535.2 L808.8,536.9 L809.8,538.7 L810.7,540.5 L811.7,542.2 L812.6,544.0 L813.5,545.8 L814.4,547.6 L815.3,549.3 L816.2,551.1 L817.1,552.9 L818.0,554.7 L818.9,556.5 L819.8,558.3 L820.7,560.1 L821.6,561.9 L822.5,563.7 L823.4,565.6 L824.2,567.4 L825.1,569.2 L826.0,571.0 L826.8,572.8 L827.7,574.7 L828.6,576.5 L829.4,578.3 L830.3,580.1 L831.1,582.0 L832.0,583.8 L832.8,585.6 L833.7,587.5 L834.5,589.3 L835.4,591.1 L836.2,593.0 L837.1,594.8 L838.0,596.6 L838.8,598.5 L839.7,600.3 L840.5,602.1 L841.4,603.9 L842.2,605.8 L843.1,607.6 L844.0,609.4 L844.8,611.3 L845.7,613.1 L846.6,614.9 L847.5,616.7 L848.3,618.5 L849.2,620.4 L850.1,622.2 L851.0,624.0 L851.9,625.8 L852.8,627.6 L853.7,629.4 L854.6,631.2 L855.5,633.0 L856.4,634.8 L857.3,636.6 L858.3,638.4 L859.2,640.2 L860.1,641.9 L861.1,643.7 L862.1,645.5 L863.0,647.3 L864.0,649.0 L865.0,650.8 L865.9,652.5 L866.9,654.3 L867.9,656.0 L868.9,657.7 L869.9,659.5 L871.0,661.2 L872.0,662.9 L873.0,664.6 L874.1,666.3 L875.2,668.0 L876.2,669.7 L877.3,671.4 L878.4,673.0 L879.5,674.7 L880.6,676.3 L881.7,678.0 L882.9,679.6 L884.0,681.2 L885.1,682.8 L886.3,684.4 L887.5,686.0 L888.7,687.6 L889.9,689.2 L891.1,690.7 L892.3,692.3 L893.6,693.8 L894.8,695.4 L896.1,696.9 L897.4,698.4 L898.7,699.9 L900.0,701.3 L901.3,702.8 L902.6,704.2 L904.0,705.7 L905.3,707.1 L906.7,708.5 L908.1,709.9 L909.5,711.3 L911.0,712.6 L912.4,714.0 L913.9,715.3 L915.3,716.6 L916.8,717.9 L918.3,719.2 L919.9,720.5 L921.4,721.7 L922.9,722.9 L924.5,724.2 L926.1,725.4 L927.7,726.5 L929.3,727.7 L930.9,728.8 L932.5,730.0 L934.2,731.1 L935.8,732.2 L937.5,733.2 L939.2,734.3 L940.9,735.3 L942.6,736.3 L944.3,737.3 L946.0,738.3 L947.7,739.2 L949.5,740.1 L951.2,741.0 L953.0,741.9 L954.8,742.8 L956.6,743.6 L958.4,744.4 L960.2,745.2 L962.0,746.0 L963.8,746.8 L965.6,747.5 L967.5,748.2 L969.3,748.9 L971.2,749.6 L973.0,750.3 L974.9,750.9 L976.8,751.5 L978.7,752.1 L980.6,752.7 L982.5,753.3 L984.4,753.8 L986.3,754.4 L988.2,754.9 L990.1,755.4 L992.1,755.9 L994.0,756.4 L996.0,756.8 L997.9,757.3 L999.9,757.7 L1001.8,758.1 L1003.8,758.5 L1005.8,758.9 L1007.8,759.3 L1009.7,759.6 L1011.7,760.0 L1013.7,760.3 L1015.7,760.6 L1017.7,761.0 L1019.7,761.3 L1021.7,761.5 L1023.8,761.8 L1025.8,762.1 L1027.8,762.3 L1029.8,762.6 L1031.8,762.8 L1033.9,763.0 L1035.9,763.3 L1037.9,763.5 L1040.0,763.7 L1042.0,763.9 L1044.1,764.0 L1046.1,764.2 L1048.1,764.4 L1050.2,764.5 L1052.2,764.7 L1054.3,764.8 L1056.3,765.0 L1058.4,765.1 L1060.4,765.2 L1062.5,765.4 L1064.5,765.5 L1066.6,765.6 L1068.6,765.7 L1070.7,765.8 L1072.7,765.9 L1074.8,766.0 L1076.9,766.1 L1078.9,766.2 L1081.0,766.3 L1083.0,766.3 L1085.0,766.4 L1087.1,766.5 L1089.1,766.6 L1091.2,766.6 L1093.2,766.7 L1095.3,766.8 L1097.3,766.9 L1099.3,766.9 L1101.4,767.0 L1103.4,767.1 L1105.4,767.2 L1107.4,767.2 L1109.5,767.3 L1111.5,767.4 L1113.5,767.5 L1115.5,767.5 L1117.5,767.6 L1119.5,767.7 L1121.5,767.8 L1123.5,767.9 L1125.5,767.9 L1127.5,768.0 L1129.5,768.1 L1131.5,768.2 L1133.5,768.3 L1135.4,768.4 L1137.4,768.5 L1139.4,768.6 L1141.4,768.7 L1143.3,768.8 L1145.3,768.9 L1147.3,769.0 L1149.2,769.1 L1151.2,769.2 L1153.2,769.3 L1155.1,769.4 L1157.1,769.5 L1159.1,769.6 L1161.0,769.7 L1163.0,769.8 L1164.9,769.9 L1166.9,770.0 L1168.8,770.1 L1170.8,770.2 L1172.8,770.3 L1174.7,770.4 L1176.7,770.5 L1178.6,770.6 L1180.6,770.7 L1182.5,770.9 L1184.5,771.0 L1186.4,771.1 L1188.4,771.2 L1190.3,771.3 L1192.3,771.4 L1194.2,771.5 L1196.2,771.6 L1198.1,771.8 L1200.1,771.9 L1202.0,772.0 L1204.0,772.1 L1205.9,772.2 L1207.9,772.3 L1209.8,772.5 L1211.8,772.6 L1213.7,772.7 L1215.7,772.8 L1217.6,772.9 L1219.6,773.0 L1221.6,773.2 L1223.5,773.3 L1225.5,773.4 L1227.4,773.5 L1229.4,773.6 L1231.4,773.7 L1233.3,773.9 L1235.3,774.0 L1237.3,774.1 L1239.3,774.2 L1241.2,774.3 L1243.2,774.4 L1245.2,774.6 L1247.2,774.7 L1249.2,774.8 L1251.2,774.9 L1253.2,775.0 L1255.2,775.1 L1257.1,775.2 L1259.1,775.4 L1261.1,775.5 L1263.2,775.6 L1265.2,775.7 L1267.2,775.8 L1269.2,775.9 L1271.2,776.0 L1273.2,776.1 L1275.3,776.3 L1277.3,776.4 L1279.3,776.5 L1281.4,776.6 L1283.4,776.7 L1285.4,776.8 L1287.5,776.9 L1289.5,777.0 L1291.6,777.1 L1293.7,777.2 L1295.7,777.3 L1297.8,777.4 L1299.9,777.5 L1301.9,777.6 L1304.0,777.7 L1306.1,777.8 L1308.2,777.9 L1310.3,778.0" fill="none" stroke="#0000ff" stroke-width="5.0" stroke-linejoin="round" stroke-linecap="round"/>
<g stroke="#555" stroke-width="3" fill="none">
<path d="M172.7,1103 V1905 M157,1889.5 H1234.5"/>
<path d="M157,1889.5 H172"/>
<path d="M157,1575.5 H172"/>
<path d="M157,1261.5 H172"/>
<path d="M162,1732.5 H172"/>
<path d="M162,1418.5 H172"/>
<path d="M162,1104.5 H172"/>
<path d="M172.7,1889 V1905"/>
<path d="M385.1,1889 V1905"/>
<path d="M597.4,1889 V1905"/>
<path d="M809.8,1889 V1905"/>
<path d="M1022.1,1889 V1905"/>
<path d="M1234.5,1889 V1905"/>
<path d="M278.9,1889 V1898"/>
<path d="M491.2,1889 V1898"/>
<path d="M703.6,1889 V1898"/>
<path d="M916.0,1889 V1898"/>
<path d="M1128.3,1889 V1898"/>
</g>
<line x1="783" y1="1254" x2="814" y2="1156" stroke="#8a8a8a" stroke-width="1.6"/>
<line x1="889" y1="1341" x2="915" y2="1300" stroke="#8a8a8a" stroke-width="1.6"/>
<line x1="876" y1="1525" x2="923" y2="1459" stroke="#8a8a8a" stroke-width="1.6"/>
<line x1="886" y1="1668" x2="979" y2="1605" stroke="#8a8a8a" stroke-width="1.6"/>
<path d="M172.0,1888.0 L400.0,1887.5 L460.0,1886.5 L462.4,1886.7 L464.7,1886.8 L467.0,1886.9 L469.3,1886.9 L471.6,1887.0 L473.8,1887.0 L476.1,1886.9 L478.3,1886.9 L480.5,1886.8 L482.7,1886.7 L484.8,1886.5 L487.0,1886.3 L489.1,1886.1 L491.2,1885.9 L493.3,1885.6 L495.3,1885.3 L497.4,1885.0 L499.4,1884.7 L501.4,1884.3 L503.4,1883.9 L505.3,1883.5 L507.3,1883.0 L509.2,1882.5 L511.1,1882.0 L513.0,1881.5 L514.9,1880.9 L516.8,1880.4 L518.6,1879.8 L520.4,1879.1 L522.2,1878.5 L524.0,1877.8 L525.8,1877.1 L527.6,1876.4 L529.3,1875.6 L531.0,1874.8 L532.7,1874.0 L534.4,1873.2 L536.1,1872.4 L537.8,1871.5 L539.4,1870.6 L541.0,1869.7 L542.6,1868.8 L544.2,1867.8 L545.8,1866.9 L547.4,1865.9 L548.9,1864.9 L550.5,1863.8 L552.0,1862.8 L553.5,1861.7 L555.0,1860.6 L556.5,1859.5 L557.9,1858.4 L559.4,1857.2 L560.8,1856.0 L562.2,1854.9 L563.6,1853.7 L565.0,1852.4 L566.4,1851.2 L567.8,1849.9 L569.1,1848.7 L570.5,1847.4 L571.8,1846.1 L573.1,1844.7 L574.4,1843.4 L575.7,1842.0 L576.9,1840.7 L578.2,1839.3 L579.5,1837.9 L580.7,1836.4 L581.9,1835.0 L583.1,1833.6 L584.3,1832.1 L585.5,1830.6 L586.7,1829.1 L587.9,1827.6 L589.0,1826.1 L590.2,1824.6 L591.3,1823.0 L592.4,1821.5 L593.5,1819.9 L594.6,1818.3 L595.7,1816.7 L596.8,1815.1 L597.8,1813.5 L598.9,1811.9 L599.9,1810.2 L601.0,1808.6 L602.0,1806.9 L603.0,1805.3 L604.0,1803.6 L605.0,1801.9 L606.0,1800.2 L607.0,1798.5 L608.0,1796.8 L608.9,1795.0 L609.9,1793.3 L610.8,1791.6 L611.8,1789.8 L612.7,1788.1 L613.6,1786.3 L614.5,1784.5 L615.4,1782.8 L616.3,1781.0 L617.2,1779.2 L618.1,1777.4 L619.0,1775.6 L619.8,1773.8 L620.7,1771.9 L621.5,1770.1 L622.4,1768.3 L623.2,1766.5 L624.0,1764.6 L624.8,1762.8 L625.7,1760.9 L626.5,1759.1 L627.3,1757.2 L628.1,1755.4 L628.9,1753.5 L629.6,1751.7 L630.4,1749.8 L631.2,1747.9 L632.0,1746.1 L632.7,1744.2 L633.5,1742.3 L634.2,1740.4 L635.0,1738.6 L635.7,1736.7 L636.5,1734.8 L637.2,1732.9 L637.9,1731.0 L638.6,1729.1 L639.3,1727.2 L640.0,1725.3 L640.8,1723.4 L641.5,1721.5 L642.1,1719.6 L642.8,1717.7 L643.5,1715.8 L644.2,1713.9 L644.9,1712.0 L645.6,1710.1 L646.2,1708.2 L646.9,1706.3 L647.5,1704.3 L648.2,1702.4 L648.9,1700.5 L649.5,1698.6 L650.1,1696.7 L650.8,1694.7 L651.4,1692.8 L652.1,1690.9 L652.7,1688.9 L653.3,1687.0 L653.9,1685.1 L654.6,1683.1 L655.2,1681.2 L655.8,1679.3 L656.4,1677.3 L657.0,1675.4 L657.6,1673.4 L658.2,1671.5 L658.8,1669.6 L659.4,1667.6 L660.0,1665.7 L660.6,1663.7 L661.2,1661.8 L661.7,1659.8 L662.3,1657.9 L662.9,1655.9 L663.5,1654.0 L664.1,1652.0 L664.6,1650.1 L665.2,1648.1 L665.8,1646.2 L666.3,1644.2 L666.9,1642.2 L667.5,1640.3 L668.0,1638.3 L668.6,1636.4 L669.1,1634.4 L669.7,1632.5 L670.2,1630.5 L670.8,1628.5 L671.3,1626.6 L671.9,1624.6 L672.4,1622.7 L673.0,1620.7 L673.5,1618.7 L674.1,1616.8 L674.6,1614.8 L675.2,1612.8 L675.7,1610.9 L676.3,1608.9 L676.8,1607.0 L677.3,1605.0 L677.9,1603.0 L678.4,1601.1 L679.0,1599.1 L679.5,1597.2 L680.0,1595.2 L680.6,1593.2 L681.1,1591.3 L681.6,1589.3 L682.2,1587.4 L682.7,1585.4 L683.3,1583.4 L683.8,1581.5 L684.3,1579.5 L684.9,1577.6 L685.4,1575.6 L686.0,1573.7 L686.5,1571.7 L687.0,1569.7 L687.6,1567.8 L688.1,1565.8 L688.7,1563.9 L689.2,1561.9 L689.8,1560.0 L690.3,1558.0 L690.8,1556.1 L691.4,1554.2 L691.9,1552.2 L692.5,1550.3 L693.0,1548.3 L693.6,1546.4 L694.2,1544.4 L694.7,1542.5 L695.3,1540.6 L695.8,1538.6 L696.4,1536.7 L697.0,1534.7 L697.5,1532.8 L698.1,1530.9 L698.6,1528.9 L699.2,1527.0 L699.8,1525.1 L700.4,1523.2 L700.9,1521.2 L701.5,1519.3 L702.1,1517.4 L702.7,1515.4 L703.2,1513.5 L703.8,1511.6 L704.4,1509.7 L705.0,1507.8 L705.5,1505.8 L706.1,1503.9 L706.7,1502.0 L707.3,1500.1 L707.9,1498.2 L708.5,1496.3 L709.1,1494.3 L709.7,1492.4 L710.2,1490.5 L710.8,1488.6 L711.4,1486.7 L712.0,1484.8 L712.6,1482.9 L713.2,1481.0 L713.8,1479.1 L714.4,1477.1 L715.0,1475.2 L715.6,1473.3 L716.2,1471.4 L716.8,1469.5 L717.4,1467.6 L718.0,1465.7 L718.7,1463.8 L719.3,1461.9 L719.9,1460.0 L720.5,1458.1 L721.1,1456.2 L721.7,1454.3 L722.3,1452.4 L722.9,1450.5 L723.6,1448.6 L724.2,1446.7 L724.8,1444.9 L725.4,1443.0 L726.0,1441.1 L726.6,1439.2 L727.3,1437.3 L727.9,1435.4 L728.5,1433.5 L729.1,1431.6 L729.8,1429.7 L730.4,1427.8 L731.0,1425.9 L731.7,1424.1 L732.3,1422.2 L732.9,1420.3 L733.5,1418.4 L734.2,1416.5 L734.8,1414.6 L735.4,1412.8 L736.1,1410.9 L736.7,1409.0 L737.4,1407.1 L738.0,1405.2 L738.6,1403.3 L739.3,1401.5 L739.9,1399.6 L740.5,1397.7 L741.2,1395.8 L741.8,1393.9 L742.5,1392.1 L743.1,1390.2 L743.8,1388.3 L744.4,1386.4 L745.1,1384.6 L745.7,1382.7 L746.4,1380.8 L747.0,1378.9 L747.6,1377.1 L748.3,1375.2 L749.0,1373.3 L749.6,1371.4 L750.3,1369.6 L750.9,1367.7 L751.6,1365.8 L752.2,1363.9 L752.9,1362.1 L753.5,1360.2 L754.2,1358.3 L754.8,1356.4 L755.5,1354.6 L756.2,1352.7 L756.8,1350.8 L757.5,1349.0 L758.1,1347.1 L758.8,1345.2 L759.5,1343.3 L760.1,1341.5 L760.8,1339.6 L761.4,1337.7 L762.1,1335.9 L762.8,1334.0 L763.4,1332.1 L764.1,1330.3 L764.8,1328.4 L765.4,1326.5 L766.1,1324.7 L766.8,1322.8 L767.4,1320.9 L768.1,1319.0 L768.8,1317.2 L769.4,1315.3 L770.1,1313.4 L770.8,1311.6 L771.5,1309.7 L772.1,1307.8 L772.8,1306.0 L773.5,1304.1 L774.1,1302.2 L774.8,1300.4 L775.5,1298.5 L776.2,1296.6 L776.8,1294.8 L777.5,1292.9 L778.2,1291.0 L778.9,1289.2 L779.5,1287.3 L780.2,1285.4 L780.9,1283.6 L781.6,1281.7 L782.3,1279.8 L782.9,1277.9 L783.6,1276.1 L784.3,1274.2 L785.0,1272.3 L785.6,1270.5 L786.3,1268.6 L787.0,1266.7 L787.7,1264.9 L788.4,1263.0 L789.0,1261.1 L789.7,1259.3 L790.4,1257.4 L791.1,1255.5 L791.8,1253.6 L792.4,1251.8 L793.1,1249.9 L793.8,1248.0 L794.5,1246.2 L795.2,1244.3 L795.9,1242.4 L796.5,1240.5 L797.2,1238.7 L797.9,1236.8 L798.6,1234.9 L799.3,1233.0 L800.0,1231.2 L800.6,1229.3 L801.3,1227.4 L802.0,1225.5 L802.7,1223.7 L803.4,1221.8 L804.1,1219.9 L804.7,1218.0 L805.4,1216.2 L806.1,1214.3 L806.8,1212.4 L807.5,1210.5 L808.2,1208.7 L808.9,1206.8 L809.5,1204.9 L810.2,1203.0 L810.9,1201.1 L811.6,1199.3 L812.3,1197.4 L813.0,1195.5 L813.7,1193.6 L814.3,1191.7 L815.0,1189.8 L815.7,1188.0 L816.4,1186.1 L817.1,1184.2 L817.8,1182.3 L818.4,1180.4 L819.1,1178.5 L819.8,1176.6 L820.5,1174.8 L821.2,1172.9 L821.9,1171.0 L822.6,1169.1 L823.2,1167.2 L823.9,1165.3 L824.6,1163.4 L825.3,1161.5 L826.0,1159.6 L826.7,1157.7 L827.3,1155.8 L828.0,1153.9 L828.7,1152.0 L829.4,1150.1 L830.1,1148.3 L830.8,1146.4 L831.4,1144.5 L832.1,1142.6 L832.8,1140.7 L833.5,1138.8 L834.2,1136.9 L834.8,1134.9 L835.5,1133.0 L836.2,1131.1 L836.9,1129.2 L837.6,1127.3 L838.2,1125.4 L838.9,1123.5 L839.6,1121.6 L840.3,1119.7 L841.0,1117.8 L841.6,1115.9 L842.3,1114.0 L843.0,1112.1 L843.7,1110.1 L844.3,1108.2 L845.0,1106.3 L845.7,1104.4" fill="none" stroke="#0000ff" stroke-width="4.5" stroke-linejoin="round" stroke-linecap="round"/>
<path d="M172.0,1888.0 L400.0,1887.5 L500.0,1885.0 L502.2,1884.9 L504.3,1884.7 L506.5,1884.5 L508.6,1884.3 L510.7,1884.1 L512.9,1883.8 L515.0,1883.6 L517.1,1883.3 L519.2,1882.9 L521.2,1882.6 L523.3,1882.2 L525.4,1881.8 L527.4,1881.3 L529.4,1880.9 L531.5,1880.4 L533.5,1879.9 L535.5,1879.4 L537.5,1878.8 L539.5,1878.2 L541.4,1877.7 L543.4,1877.0 L545.3,1876.4 L547.2,1875.7 L549.2,1875.0 L551.1,1874.3 L553.0,1873.6 L554.8,1872.9 L556.7,1872.1 L558.6,1871.3 L560.4,1870.5 L562.2,1869.7 L564.1,1868.8 L565.9,1868.0 L567.7,1867.1 L569.4,1866.2 L571.2,1865.2 L572.9,1864.3 L574.7,1863.3 L576.4,1862.3 L578.1,1861.3 L579.8,1860.3 L581.5,1859.3 L583.1,1858.2 L584.8,1857.2 L586.4,1856.1 L588.1,1855.0 L589.7,1853.8 L591.2,1852.7 L592.8,1851.5 L594.4,1850.4 L595.9,1849.2 L597.5,1848.0 L599.0,1846.8 L600.5,1845.5 L602.0,1844.3 L603.4,1843.0 L604.9,1841.8 L606.3,1840.5 L607.7,1839.2 L609.1,1837.8 L610.5,1836.5 L611.9,1835.2 L613.3,1833.8 L614.6,1832.4 L615.9,1831.1 L617.2,1829.7 L618.5,1828.3 L619.8,1826.8 L621.1,1825.4 L622.3,1824.0 L623.6,1822.5 L624.8,1821.1 L626.0,1819.6 L627.2,1818.1 L628.4,1816.6 L629.5,1815.1 L630.7,1813.6 L631.9,1812.0 L633.0,1810.5 L634.1,1809.0 L635.3,1807.4 L636.4,1805.9 L637.5,1804.3 L638.6,1802.7 L639.6,1801.1 L640.7,1799.5 L641.8,1797.9 L642.8,1796.3 L643.9,1794.7 L644.9,1793.1 L646.0,1791.4 L647.0,1789.8 L648.0,1788.1 L649.0,1786.5 L650.0,1784.8 L651.0,1783.2 L652.0,1781.5 L653.0,1779.8 L654.0,1778.2 L655.0,1776.5 L656.0,1774.8 L656.9,1773.1 L657.9,1771.4 L658.9,1769.7 L659.8,1768.0 L660.8,1766.3 L661.8,1764.6 L662.7,1762.9 L663.7,1761.2 L664.6,1759.4 L665.6,1757.7 L666.5,1756.0 L667.5,1754.3 L668.5,1752.6 L669.4,1750.8 L670.4,1749.1 L671.3,1747.4 L672.3,1745.6 L673.2,1743.9 L674.2,1742.2 L675.1,1740.4 L676.1,1738.7 L677.0,1736.9 L678.0,1735.2 L678.9,1733.5 L679.9,1731.7 L680.8,1730.0 L681.8,1728.2 L682.7,1726.5 L683.7,1724.7 L684.6,1723.0 L685.6,1721.2 L686.5,1719.5 L687.5,1717.7 L688.4,1715.9 L689.4,1714.2 L690.3,1712.4 L691.3,1710.7 L692.2,1708.9 L693.2,1707.1 L694.1,1705.4 L695.1,1703.6 L696.0,1701.8 L697.0,1700.1 L697.9,1698.3 L698.9,1696.5 L699.8,1694.7 L700.8,1693.0 L701.7,1691.2 L702.7,1689.4 L703.6,1687.6 L704.6,1685.9 L705.5,1684.1 L706.5,1682.3 L707.4,1680.5 L708.3,1678.7 L709.3,1677.0 L710.2,1675.2 L711.2,1673.4 L712.1,1671.6 L713.1,1669.8 L714.0,1668.0 L715.0,1666.3 L715.9,1664.5 L716.9,1662.7 L717.8,1660.9 L718.8,1659.1 L719.7,1657.3 L720.6,1655.5 L721.6,1653.7 L722.5,1651.9 L723.5,1650.1 L724.4,1648.4 L725.4,1646.6 L726.3,1644.8 L727.3,1643.0 L728.2,1641.2 L729.2,1639.4 L730.1,1637.6 L731.0,1635.8 L732.0,1634.0 L732.9,1632.2 L733.9,1630.4 L734.8,1628.6 L735.8,1626.8 L736.7,1625.0 L737.7,1623.2 L738.6,1621.4 L739.5,1619.6 L740.5,1617.8 L741.4,1616.0 L742.4,1614.2 L743.3,1612.4 L744.3,1610.6 L745.2,1608.8 L746.2,1607.0 L747.1,1605.2 L748.1,1603.4 L749.0,1601.6 L749.9,1599.8 L750.9,1598.0 L751.8,1596.2 L752.8,1594.4 L753.7,1592.7 L754.7,1590.9 L755.6,1589.1 L756.6,1587.3 L757.5,1585.5 L758.5,1583.7 L759.4,1581.9 L760.3,1580.1 L761.3,1578.3 L762.2,1576.5 L763.2,1574.7 L764.1,1572.9 L765.1,1571.1 L766.0,1569.3 L767.0,1567.5 L767.9,1565.7 L768.9,1563.9 L769.8,1562.1 L770.7,1560.4 L771.7,1558.6 L772.6,1556.8 L773.6,1555.0 L774.5,1553.2 L775.5,1551.4 L776.4,1549.6 L777.4,1547.8 L778.3,1546.1 L779.3,1544.3 L780.2,1542.5 L781.2,1540.7 L782.1,1538.9 L783.1,1537.1 L784.0,1535.4 L784.9,1533.6 L785.9,1531.8 L786.8,1530.0 L787.8,1528.2 L788.7,1526.5 L789.7,1524.7 L790.6,1522.9 L791.6,1521.1 L792.5,1519.4 L793.5,1517.6 L794.4,1515.8 L795.4,1514.0 L796.3,1512.3 L797.3,1510.5 L798.2,1508.7 L799.1,1506.9 L800.1,1505.2 L801.0,1503.4 L802.0,1501.6 L802.9,1499.8 L803.9,1498.1 L804.8,1496.3 L805.8,1494.5 L806.7,1492.8 L807.6,1491.0 L808.6,1489.2 L809.5,1487.5 L810.5,1485.7 L811.4,1483.9 L812.3,1482.2 L813.3,1480.4 L814.2,1478.6 L815.2,1476.8 L816.1,1475.1 L817.0,1473.3 L818.0,1471.5 L818.9,1469.8 L819.9,1468.0 L820.8,1466.2 L821.7,1464.5 L822.7,1462.7 L823.6,1461.0 L824.5,1459.2 L825.5,1457.4 L826.4,1455.7 L827.3,1453.9 L828.3,1452.1 L829.2,1450.4 L830.1,1448.6 L831.1,1446.8 L832.0,1445.1 L832.9,1443.3 L833.8,1441.5 L834.8,1439.8 L835.7,1438.0 L836.6,1436.2 L837.5,1434.5 L838.5,1432.7 L839.4,1430.9 L840.3,1429.2 L841.2,1427.4 L842.2,1425.6 L843.1,1423.9 L844.0,1422.1 L844.9,1420.4 L845.8,1418.6 L846.7,1416.8 L847.7,1415.1 L848.6,1413.3 L849.5,1411.5 L850.4,1409.8 L851.3,1408.0 L852.2,1406.2 L853.1,1404.5 L854.0,1402.7 L854.9,1400.9 L855.8,1399.1 L856.7,1397.4 L857.6,1395.6 L858.6,1393.8 L859.5,1392.1 L860.4,1390.3 L861.3,1388.5 L862.2,1386.8 L863.0,1385.0 L863.9,1383.2 L864.8,1381.4 L865.7,1379.7 L866.6,1377.9 L867.5,1376.1 L868.4,1374.4 L869.3,1372.6 L870.2,1370.8 L871.1,1369.0 L871.9,1367.3 L872.8,1365.5 L873.7,1363.7 L874.6,1361.9 L875.5,1360.1 L876.3,1358.4 L877.2,1356.6 L878.1,1354.8 L879.0,1353.0 L879.8,1351.2 L880.7,1349.5 L881.6,1347.7 L882.4,1345.9 L883.3,1344.1 L884.2,1342.3 L885.0,1340.6 L885.9,1338.8 L886.8,1337.0 L887.6,1335.2 L888.5,1333.4 L889.3,1331.6 L890.2,1329.8 L891.0,1328.0 L891.9,1326.3 L892.7,1324.5 L893.6,1322.7 L894.4,1320.9 L895.3,1319.1 L896.1,1317.3 L897.0,1315.5 L897.8,1313.7 L898.6,1311.9 L899.5,1310.1 L900.3,1308.3 L901.1,1306.5 L902.0,1304.7 L902.8,1302.9 L903.6,1301.1 L904.4,1299.3 L905.3,1297.5 L906.1,1295.7 L906.9,1293.9 L907.7,1292.1 L908.5,1290.3 L909.3,1288.5 L910.1,1286.7 L911.0,1284.8 L911.8,1283.0 L912.6,1281.2 L913.4,1279.4 L914.2,1277.6 L915.0,1275.8 L915.8,1274.0 L916.6,1272.1 L917.4,1270.3 L918.1,1268.5 L918.9,1266.7 L919.7,1264.9 L920.5,1263.0 L921.3,1261.2 L922.1,1259.4 L922.8,1257.5 L923.6,1255.7 L924.4,1253.9 L925.2,1252.1 L925.9,1250.2 L926.7,1248.4 L927.5,1246.6 L928.2,1244.7 L929.0,1242.9 L929.7,1241.0 L930.5,1239.2 L931.3,1237.4 L932.0,1235.5 L932.7,1233.7 L933.5,1231.8 L934.2,1230.0 L935.0,1228.1 L935.7,1226.3 L936.5,1224.4 L937.2,1222.6 L937.9,1220.7 L938.7,1218.9 L939.4,1217.0 L940.1,1215.1 L940.8,1213.3 L941.5,1211.4 L942.3,1209.6 L943.0,1207.7 L943.7,1205.8 L944.4,1204.0 L945.1,1202.1 L945.8,1200.2 L946.5,1198.3 L947.2,1196.5 L947.9,1194.6 L948.6,1192.7 L949.3,1190.8 L950.0,1189.0 L950.7,1187.1 L951.3,1185.2 L952.0,1183.3 L952.7,1181.4 L953.4,1179.5 L954.0,1177.6 L954.7,1175.7 L955.4,1173.9 L956.0,1172.0 L956.7,1170.1 L957.4,1168.2 L958.0,1166.3 L958.7,1164.4 L959.3,1162.4 L960.0,1160.5 L960.6,1158.6 L961.2,1156.7 L961.9,1154.8 L962.5,1152.9 L963.2,1151.0 L963.8,1149.1 L964.4,1147.1 L965.0,1145.2 L965.7,1143.3 L966.3,1141.4 L966.9,1139.4 L967.5,1137.5 L968.1,1135.6 L968.7,1133.6 L969.3,1131.7 L969.9,1129.8 L970.5,1127.8 L971.1,1125.9 L971.7,1123.9 L972.3,1122.0 L972.9,1120.1 L973.4,1118.1 L974.0,1116.2 L974.6,1114.2 L975.1,1112.2 L975.7,1110.3 L976.3,1108.3 L976.8,1106.4 L977.4,1104.4" fill="none" stroke="#000000" stroke-width="4.5" stroke-linejoin="round" stroke-linecap="round"/>
<path d="M172.0,1888.0 L400.0,1887.5 L490.0,1886.5 L492.3,1886.6 L494.5,1886.6 L496.7,1886.6 L498.9,1886.6 L501.1,1886.6 L503.3,1886.6 L505.5,1886.5 L507.6,1886.4 L509.8,1886.3 L511.9,1886.1 L514.0,1886.0 L516.2,1885.8 L518.2,1885.6 L520.3,1885.4 L522.4,1885.1 L524.5,1884.8 L526.5,1884.5 L528.5,1884.2 L530.6,1883.9 L532.6,1883.5 L534.6,1883.2 L536.5,1882.8 L538.5,1882.3 L540.5,1881.9 L542.4,1881.4 L544.4,1881.0 L546.3,1880.5 L548.2,1879.9 L550.1,1879.4 L552.0,1878.9 L553.9,1878.3 L555.7,1877.7 L557.6,1877.1 L559.4,1876.4 L561.3,1875.8 L563.1,1875.1 L564.9,1874.4 L566.7,1873.7 L568.5,1873.0 L570.3,1872.3 L572.1,1871.5 L573.9,1870.7 L575.6,1869.9 L577.4,1869.1 L579.1,1868.3 L580.8,1867.5 L582.5,1866.6 L584.2,1865.8 L585.9,1864.9 L587.6,1864.0 L589.3,1863.0 L591.0,1862.1 L592.6,1861.2 L594.3,1860.2 L595.9,1859.2 L597.6,1858.2 L599.2,1857.2 L600.8,1856.2 L602.4,1855.2 L604.0,1854.1 L605.6,1853.1 L607.2,1852.0 L608.8,1850.9 L610.4,1849.8 L611.9,1848.7 L613.5,1847.5 L615.0,1846.4 L616.6,1845.2 L618.1,1844.1 L619.6,1842.9 L621.1,1841.7 L622.6,1840.5 L624.1,1839.3 L625.6,1838.1 L627.1,1836.8 L628.6,1835.6 L630.1,1834.3 L631.6,1833.1 L633.0,1831.8 L634.5,1830.5 L635.9,1829.2 L637.4,1827.9 L638.8,1826.6 L640.2,1825.2 L641.7,1823.9 L643.1,1822.6 L644.5,1821.2 L645.9,1819.8 L647.3,1818.5 L648.7,1817.1 L650.1,1815.7 L651.5,1814.3 L652.9,1812.9 L654.2,1811.5 L655.6,1810.1 L657.0,1808.6 L658.3,1807.2 L659.7,1805.8 L661.0,1804.3 L662.4,1802.8 L663.7,1801.4 L665.1,1799.9 L666.4,1798.4 L667.7,1797.0 L669.1,1795.5 L670.4,1794.0 L671.7,1792.5 L673.0,1791.0 L674.3,1789.5 L675.6,1787.9 L676.9,1786.4 L678.2,1784.9 L679.5,1783.4 L680.8,1781.8 L682.1,1780.3 L683.4,1778.8 L684.7,1777.2 L686.0,1775.7 L687.3,1774.1 L688.6,1772.6 L689.8,1771.0 L691.1,1769.5 L692.4,1767.9 L693.6,1766.3 L694.9,1764.8 L696.2,1763.2 L697.4,1761.6 L698.7,1760.0 L700.0,1758.5 L701.2,1756.9 L702.5,1755.3 L703.7,1753.7 L705.0,1752.2 L706.2,1750.6 L707.5,1749.0 L708.7,1747.4 L710.0,1745.8 L711.2,1744.2 L712.5,1742.7 L713.7,1741.1 L715.0,1739.5 L716.2,1737.9 L717.4,1736.3 L718.7,1734.7 L719.9,1733.1 L721.1,1731.5 L722.4,1729.9 L723.6,1728.3 L724.8,1726.7 L726.1,1725.2 L727.3,1723.6 L728.5,1722.0 L729.8,1720.4 L731.0,1718.8 L732.2,1717.2 L733.4,1715.6 L734.6,1713.9 L735.9,1712.3 L737.1,1710.7 L738.3,1709.1 L739.5,1707.5 L740.7,1705.9 L741.9,1704.3 L743.1,1702.7 L744.3,1701.1 L745.5,1699.5 L746.7,1697.9 L747.9,1696.2 L749.2,1694.6 L750.4,1693.0 L751.5,1691.4 L752.7,1689.8 L753.9,1688.2 L755.1,1686.5 L756.3,1684.9 L757.5,1683.3 L758.7,1681.7 L759.9,1680.1 L761.1,1678.4 L762.3,1676.8 L763.5,1675.2 L764.6,1673.5 L765.8,1671.9 L767.0,1670.3 L768.2,1668.7 L769.3,1667.0 L770.5,1665.4 L771.7,1663.8 L772.9,1662.1 L774.0,1660.5 L775.2,1658.9 L776.4,1657.2 L777.5,1655.6 L778.7,1653.9 L779.9,1652.3 L781.0,1650.7 L782.2,1649.0 L783.3,1647.4 L784.5,1645.7 L785.7,1644.1 L786.8,1642.4 L788.0,1640.8 L789.1,1639.2 L790.3,1637.5 L791.4,1635.9 L792.5,1634.2 L793.7,1632.6 L794.8,1630.9 L796.0,1629.3 L797.1,1627.6 L798.3,1625.9 L799.4,1624.3 L800.5,1622.6 L801.7,1621.0 L802.8,1619.3 L803.9,1617.7 L805.0,1616.0 L806.2,1614.3 L807.3,1612.7 L808.4,1611.0 L809.5,1609.3 L810.7,1607.7 L811.8,1606.0 L812.9,1604.4 L814.0,1602.7 L815.1,1601.0 L816.2,1599.4 L817.4,1597.7 L818.5,1596.0 L819.6,1594.3 L820.7,1592.7 L821.8,1591.0 L822.9,1589.3 L824.0,1587.6 L825.1,1586.0 L826.2,1584.3 L827.3,1582.6 L828.4,1580.9 L829.5,1579.3 L830.6,1577.6 L831.7,1575.9 L832.8,1574.2 L833.8,1572.5 L834.9,1570.9 L836.0,1569.2 L837.1,1567.5 L838.2,1565.8 L839.3,1564.1 L840.3,1562.4 L841.4,1560.7 L842.5,1559.0 L843.6,1557.4 L844.6,1555.7 L845.7,1554.0 L846.8,1552.3 L847.8,1550.6 L848.9,1548.9 L850.0,1547.2 L851.0,1545.5 L852.1,1543.8 L853.1,1542.1 L854.2,1540.4 L855.3,1538.7 L856.3,1537.0 L857.4,1535.3 L858.4,1533.6 L859.5,1531.9 L860.5,1530.2 L861.5,1528.5 L862.6,1526.8 L863.6,1525.1 L864.7,1523.4 L865.7,1521.7 L866.8,1520.0 L867.8,1518.2 L868.8,1516.5 L869.9,1514.8 L870.9,1513.1 L871.9,1511.4 L872.9,1509.7 L874.0,1508.0 L875.0,1506.3 L876.0,1504.5 L877.0,1502.8 L878.1,1501.1 L879.1,1499.4 L880.1,1497.7 L881.1,1495.9 L882.1,1494.2 L883.1,1492.5 L884.1,1490.8 L885.1,1489.0 L886.2,1487.3 L887.2,1485.6 L888.2,1483.9 L889.2,1482.1 L890.2,1480.4 L891.2,1478.7 L892.2,1477.0 L893.2,1475.2 L894.1,1473.5 L895.1,1471.8 L896.1,1470.0 L897.1,1468.3 L898.1,1466.6 L899.1,1464.8 L900.1,1463.1 L901.1,1461.3 L902.0,1459.6 L903.0,1457.9 L904.0,1456.1 L905.0,1454.4 L905.9,1452.6 L906.9,1450.9 L907.9,1449.2 L908.8,1447.4 L909.8,1445.7 L910.8,1443.9 L911.7,1442.2 L912.7,1440.4 L913.7,1438.7 L914.6,1436.9 L915.6,1435.2 L916.5,1433.4 L917.5,1431.7 L918.4,1429.9 L919.4,1428.2 L920.3,1426.4 L921.3,1424.6 L922.2,1422.9 L923.2,1421.1 L924.1,1419.4 L925.1,1417.6 L926.0,1415.9 L926.9,1414.1 L927.9,1412.3 L928.8,1410.6 L929.7,1408.8 L930.7,1407.0 L931.6,1405.3 L932.5,1403.5 L933.5,1401.7 L934.4,1400.0 L935.3,1398.2 L936.2,1396.4 L937.1,1394.7 L938.1,1392.9 L939.0,1391.1 L939.9,1389.3 L940.8,1387.6 L941.7,1385.8 L942.6,1384.0 L943.5,1382.2 L944.4,1380.5 L945.3,1378.7 L946.2,1376.9 L947.1,1375.1 L948.0,1373.4 L948.9,1371.6 L949.8,1369.8 L950.7,1368.0 L951.6,1366.2 L952.5,1364.4 L953.4,1362.6 L954.3,1360.9 L955.2,1359.1 L956.0,1357.3 L956.9,1355.5 L957.8,1353.7 L958.7,1351.9 L959.6,1350.1 L960.4,1348.3 L961.3,1346.5 L962.2,1344.7 L963.1,1342.9 L963.9,1341.1 L964.8,1339.3 L965.7,1337.6 L966.5,1335.8 L967.4,1334.0 L968.2,1332.2 L969.1,1330.4 L970.0,1328.5 L970.8,1326.7 L971.7,1324.9 L972.5,1323.1 L973.4,1321.3 L974.2,1319.5 L975.1,1317.7 L975.9,1315.9 L976.8,1314.1 L977.6,1312.3 L978.4,1310.5 L979.3,1308.7 L980.1,1306.8 L980.9,1305.0 L981.8,1303.2 L982.6,1301.4 L983.4,1299.6 L984.3,1297.8 L985.1,1296.0 L985.9,1294.1 L986.7,1292.3 L987.6,1290.5 L988.4,1288.7 L989.2,1286.8 L990.0,1285.0 L990.8,1283.2 L991.6,1281.4 L992.5,1279.6 L993.3,1277.7 L994.1,1275.9 L994.9,1274.1 L995.7,1272.2 L996.5,1270.4 L997.3,1268.6 L998.1,1266.7 L998.9,1264.9 L999.7,1263.1 L1000.5,1261.2 L1001.3,1259.4 L1002.1,1257.6 L1002.8,1255.7 L1003.6,1253.9 L1004.4,1252.1 L1005.2,1250.2 L1006.0,1248.4 L1006.8,1246.5 L1007.5,1244.7 L1008.3,1242.8 L1009.1,1241.0 L1009.9,1239.2 L1010.6,1237.3 L1011.4,1235.5 L1012.2,1233.6 L1012.9,1231.8 L1013.7,1229.9 L1014.5,1228.1 L1015.2,1226.2 L1016.0,1224.4 L1016.7,1222.5 L1017.5,1220.7 L1018.3,1218.8 L1019.0,1216.9 L1019.8,1215.1 L1020.5,1213.2 L1021.3,1211.4 L1022.0,1209.5 L1022.7,1207.7 L1023.5,1205.8 L1024.2,1203.9 L1025.0,1202.1 L1025.7,1200.2 L1026.4,1198.3 L1027.2,1196.5 L1027.9,1194.6 L1028.6,1192.7 L1029.4,1190.9 L1030.1,1189.0 L1030.8,1187.1 L1031.5,1185.3 L1032.3,1183.4 L1033.0,1181.5 L1033.7,1179.6 L1034.4,1177.8 L1035.1,1175.9 L1035.8,1174.0 L1036.6,1172.1 L1037.3,1170.3 L1038.0,1168.4 L1038.7,1166.5 L1039.4,1164.6 L1040.1,1162.8 L1040.8,1160.9 L1041.5,1159.0 L1042.2,1157.1 L1042.9,1155.2 L1043.6,1153.3 L1044.3,1151.4 L1045.0,1149.6 L1045.6,1147.7 L1046.3,1145.8 L1047.0,1143.9 L1047.7,1142.0 L1048.4,1140.1 L1049.1,1138.2 L1049.7,1136.3 L1050.4,1134.4 L1051.1,1132.5 L1051.8,1130.6 L1052.4,1128.7 L1053.1,1126.8 L1053.8,1124.9 L1054.4,1123.0 L1055.1,1121.1 L1055.8,1119.2 L1056.4,1117.3 L1057.1,1115.4 L1057.7,1113.5 L1058.4,1111.6 L1059.0,1109.7 L1059.7,1107.8 L1060.4,1105.9 L1061.0,1104.0" fill="none" stroke="#ff0000" stroke-width="4.5" stroke-linejoin="round" stroke-linecap="round"/>
<path d="M172.0,1888.0 L400.0,1887.5 L500.0,1886.0 L502.1,1885.9 L504.2,1885.8 L506.2,1885.7 L508.3,1885.6 L510.3,1885.5 L512.4,1885.4 L514.4,1885.2 L516.5,1885.1 L518.5,1884.9 L520.6,1884.7 L522.6,1884.5 L524.6,1884.3 L526.6,1884.1 L528.6,1883.9 L530.6,1883.6 L532.6,1883.4 L534.6,1883.1 L536.6,1882.9 L538.6,1882.6 L540.6,1882.3 L542.6,1882.0 L544.6,1881.7 L546.5,1881.3 L548.5,1881.0 L550.5,1880.6 L552.4,1880.3 L554.4,1879.9 L556.3,1879.5 L558.3,1879.1 L560.2,1878.7 L562.1,1878.3 L564.1,1877.8 L566.0,1877.4 L567.9,1876.9 L569.8,1876.5 L571.7,1876.0 L573.7,1875.5 L575.6,1875.0 L577.5,1874.5 L579.4,1874.0 L581.3,1873.5 L583.1,1872.9 L585.0,1872.4 L586.9,1871.8 L588.8,1871.2 L590.6,1870.6 L592.5,1870.1 L594.4,1869.4 L596.2,1868.8 L598.1,1868.2 L599.9,1867.6 L601.8,1866.9 L603.6,1866.3 L605.5,1865.6 L607.3,1864.9 L609.1,1864.2 L611.0,1863.5 L612.8,1862.8 L614.6,1862.1 L616.4,1861.4 L618.3,1860.6 L620.1,1859.9 L621.9,1859.1 L623.7,1858.4 L625.5,1857.6 L627.3,1856.8 L629.1,1856.0 L630.9,1855.2 L632.6,1854.4 L634.4,1853.6 L636.2,1852.7 L638.0,1851.9 L639.7,1851.0 L641.5,1850.1 L643.3,1849.3 L645.0,1848.4 L646.8,1847.5 L648.6,1846.6 L650.3,1845.7 L652.1,1844.7 L653.8,1843.8 L655.6,1842.9 L657.3,1841.9 L659.0,1841.0 L660.8,1840.0 L662.5,1839.0 L664.2,1838.0 L665.9,1837.0 L667.7,1836.0 L669.4,1835.0 L671.1,1834.0 L672.8,1833.0 L674.5,1831.9 L676.2,1830.9 L677.9,1829.8 L679.6,1828.8 L681.3,1827.7 L683.0,1826.6 L684.7,1825.5 L686.4,1824.5 L688.1,1823.4 L689.8,1822.3 L691.5,1821.2 L693.2,1820.0 L694.8,1818.9 L696.5,1817.8 L698.2,1816.7 L699.9,1815.5 L701.5,1814.4 L703.2,1813.2 L704.9,1812.1 L706.5,1810.9 L708.2,1809.8 L709.8,1808.6 L711.5,1807.4 L713.1,1806.3 L714.8,1805.1 L716.4,1803.9 L718.1,1802.7 L719.7,1801.5 L721.4,1800.3 L723.0,1799.1 L724.6,1797.9 L726.3,1796.7 L727.9,1795.5 L729.5,1794.3 L731.2,1793.1 L732.8,1791.9 L734.4,1790.6 L736.0,1789.4 L737.7,1788.2 L739.3,1787.0 L740.9,1785.7 L742.5,1784.5 L744.1,1783.3 L745.7,1782.0 L747.3,1780.8 L748.9,1779.6 L750.6,1778.3 L752.2,1777.1 L753.8,1775.9 L755.4,1774.6 L757.0,1773.4 L758.6,1772.1 L760.2,1770.9 L761.8,1769.7 L763.3,1768.4 L764.9,1767.2 L766.5,1765.9 L768.1,1764.7 L769.7,1763.4 L771.3,1762.2 L772.9,1761.0 L774.5,1759.7 L776.0,1758.5 L777.6,1757.2 L779.2,1756.0 L780.8,1754.7 L782.3,1753.5 L783.9,1752.2 L785.5,1751.0 L787.1,1749.7 L788.6,1748.4 L790.2,1747.2 L791.7,1745.9 L793.3,1744.7 L794.9,1743.4 L796.4,1742.2 L798.0,1740.9 L799.5,1739.6 L801.1,1738.4 L802.6,1737.1 L804.2,1735.9 L805.7,1734.6 L807.3,1733.3 L808.8,1732.1 L810.4,1730.8 L811.9,1729.5 L813.4,1728.2 L815.0,1727.0 L816.5,1725.7 L818.0,1724.4 L819.6,1723.1 L821.1,1721.9 L822.6,1720.6 L824.1,1719.3 L825.7,1718.0 L827.2,1716.7 L828.7,1715.4 L830.2,1714.2 L831.7,1712.9 L833.2,1711.6 L834.8,1710.3 L836.3,1709.0 L837.8,1707.7 L839.3,1706.4 L840.8,1705.1 L842.3,1703.8 L843.8,1702.5 L845.3,1701.2 L846.8,1699.9 L848.3,1698.6 L849.7,1697.3 L851.2,1696.0 L852.7,1694.7 L854.2,1693.3 L855.7,1692.0 L857.2,1690.7 L858.6,1689.4 L860.1,1688.1 L861.6,1686.7 L863.0,1685.4 L864.5,1684.1 L866.0,1682.8 L867.4,1681.4 L868.9,1680.1 L870.4,1678.7 L871.8,1677.4 L873.3,1676.1 L874.7,1674.7 L876.2,1673.4 L877.6,1672.0 L879.1,1670.7 L880.5,1669.3 L882.0,1668.0 L883.4,1666.6 L884.8,1665.3 L886.3,1663.9 L887.7,1662.5 L889.1,1661.2 L890.6,1659.8 L892.0,1658.4 L893.4,1657.1 L894.8,1655.7 L896.3,1654.3 L897.7,1652.9 L899.1,1651.5 L900.5,1650.1 L901.9,1648.8 L903.3,1647.4 L904.7,1646.0 L906.1,1644.6 L907.5,1643.2 L908.9,1641.8 L910.3,1640.4 L911.7,1639.0 L913.1,1637.5 L914.5,1636.1 L915.9,1634.7 L917.2,1633.3 L918.6,1631.9 L920.0,1630.5 L921.4,1629.0 L922.8,1627.6 L924.1,1626.2 L925.5,1624.7 L926.9,1623.3 L928.2,1621.8 L929.6,1620.4 L930.9,1618.9 L932.3,1617.5 L933.6,1616.0 L935.0,1614.6 L936.3,1613.1 L937.7,1611.7 L939.0,1610.2 L940.4,1608.7 L941.7,1607.2 L943.0,1605.8 L944.4,1604.3 L945.7,1602.8 L947.0,1601.3 L948.3,1599.8 L949.7,1598.3 L951.0,1596.8 L952.3,1595.3 L953.6,1593.8 L954.9,1592.3 L956.2,1590.8 L957.5,1589.3 L958.8,1587.8 L960.1,1586.3 L961.4,1584.8 L962.7,1583.3 L964.0,1581.7 L965.3,1580.2 L966.6,1578.7 L967.9,1577.1 L969.1,1575.6 L970.4,1574.1 L971.7,1572.5 L973.0,1571.0 L974.2,1569.4 L975.5,1567.9 L976.8,1566.3 L978.0,1564.8 L979.3,1563.2 L980.5,1561.7 L981.8,1560.1 L983.0,1558.5 L984.3,1557.0 L985.5,1555.4 L986.7,1553.8 L988.0,1552.2 L989.2,1550.6 L990.4,1549.1 L991.7,1547.5 L992.9,1545.9 L994.1,1544.3 L995.3,1542.7 L996.5,1541.1 L997.7,1539.5 L998.9,1537.9 L1000.1,1536.3 L1001.3,1534.7 L1002.5,1533.1 L1003.7,1531.5 L1004.9,1529.9 L1006.1,1528.2 L1007.3,1526.6 L1008.5,1525.0 L1009.7,1523.4 L1010.8,1521.8 L1012.0,1520.1 L1013.2,1518.5 L1014.3,1516.9 L1015.5,1515.2 L1016.7,1513.6 L1017.8,1511.9 L1019.0,1510.3 L1020.1,1508.6 L1021.3,1507.0 L1022.4,1505.3 L1023.5,1503.7 L1024.7,1502.0 L1025.8,1500.4 L1026.9,1498.7 L1028.1,1497.0 L1029.2,1495.4 L1030.3,1493.7 L1031.4,1492.0 L1032.5,1490.4 L1033.6,1488.7 L1034.7,1487.0 L1035.8,1485.3 L1036.9,1483.6 L1038.0,1482.0 L1039.1,1480.3 L1040.2,1478.6 L1041.3,1476.9 L1042.4,1475.2 L1043.4,1473.5 L1044.5,1471.8 L1045.6,1470.1 L1046.7,1468.4 L1047.7,1466.7 L1048.8,1465.0 L1049.8,1463.3 L1050.9,1461.6 L1051.9,1459.9 L1053.0,1458.1 L1054.0,1456.4 L1055.0,1454.7 L1056.1,1453.0 L1057.1,1451.3 L1058.1,1449.5 L1059.1,1447.8 L1060.2,1446.1 L1061.2,1444.3 L1062.2,1442.6 L1063.2,1440.9 L1064.2,1439.1 L1065.2,1437.4 L1066.2,1435.6 L1067.2,1433.9 L1068.2,1432.1 L1069.2,1430.4 L1070.1,1428.6 L1071.1,1426.9 L1072.1,1425.1 L1073.0,1423.4 L1074.0,1421.6 L1075.0,1419.9 L1075.9,1418.1 L1076.9,1416.3 L1077.8,1414.6 L1078.8,1412.8 L1079.7,1411.0 L1080.6,1409.3 L1081.6,1407.5 L1082.5,1405.7 L1083.4,1403.9 L1084.3,1402.1 L1085.3,1400.4 L1086.2,1398.6 L1087.1,1396.8 L1088.0,1395.0 L1088.9,1393.2 L1089.8,1391.4 L1090.7,1389.6 L1091.6,1387.8 L1092.4,1386.0 L1093.3,1384.3 L1094.2,1382.5 L1095.1,1380.7 L1095.9,1378.8 L1096.8,1377.0 L1097.7,1375.2 L1098.5,1373.4 L1099.4,1371.6 L1100.2,1369.8 L1101.1,1368.0 L1101.9,1366.2 L1102.8,1364.4 L1103.6,1362.5 L1104.4,1360.7 L1105.2,1358.9 L1106.1,1357.1 L1106.9,1355.3 L1107.7,1353.4 L1108.5,1351.6 L1109.3,1349.8 L1110.1,1347.9 L1110.9,1346.1 L1111.7,1344.3 L1112.5,1342.4 L1113.3,1340.6 L1114.1,1338.8 L1114.9,1336.9 L1115.6,1335.1 L1116.4,1333.3 L1117.2,1331.4 L1118.0,1329.6 L1118.7,1327.7 L1119.5,1325.9 L1120.2,1324.0 L1121.0,1322.2 L1121.8,1320.3 L1122.5,1318.5 L1123.2,1316.6 L1124.0,1314.7 L1124.7,1312.9 L1125.5,1311.0 L1126.2,1309.2 L1126.9,1307.3 L1127.6,1305.4 L1128.4,1303.6 L1129.1,1301.7 L1129.8,1299.8 L1130.5,1298.0 L1131.2,1296.1 L1131.9,1294.2 L1132.6,1292.4 L1133.3,1290.5 L1134.0,1288.6 L1134.7,1286.7 L1135.4,1284.9 L1136.1,1283.0 L1136.8,1281.1 L1137.4,1279.2 L1138.1,1277.3 L1138.8,1275.5 L1139.4,1273.6 L1140.1,1271.7 L1140.8,1269.8 L1141.4,1267.9 L1142.1,1266.0 L1142.7,1264.1 L1143.4,1262.2 L1144.0,1260.4 L1144.7,1258.5 L1145.3,1256.6 L1146.0,1254.7 L1146.6,1252.8 L1147.2,1250.9 L1147.9,1249.0 L1148.5,1247.1 L1149.1,1245.2 L1149.7,1243.3 L1150.4,1241.4 L1151.0,1239.5 L1151.6,1237.6 L1152.2,1235.7 L1152.8,1233.8 L1153.4,1231.9 L1154.0,1229.9 L1154.6,1228.0 L1155.2,1226.1 L1155.8,1224.2 L1156.4,1222.3 L1157.0,1220.4 L1157.6,1218.5 L1158.1,1216.6 L1158.7,1214.6 L1159.3,1212.7 L1159.9,1210.8 L1160.4,1208.9 L1161.0,1207.0 L1161.6,1205.1 L1162.1,1203.1 L1162.7,1201.2 L1163.3,1199.3 L1163.8,1197.4 L1164.4,1195.5 L1164.9,1193.5 L1165.5,1191.6 L1166.0,1189.7 L1166.6,1187.8 L1167.1,1185.8 L1167.6,1183.9 L1168.2,1182.0 L1168.7,1180.0 L1169.2,1178.1 L1169.8,1176.2 L1170.3,1174.3 L1170.8,1172.3 L1171.4,1170.4 L1171.9,1168.5 L1172.4,1166.5 L1172.9,1164.6 L1173.4,1162.7 L1173.9,1160.7 L1174.4,1158.8 L1174.9,1156.8 L1175.4,1154.9 L1175.9,1153.0 L1176.4,1151.0 L1176.9,1149.1 L1177.4,1147.2 L1177.9,1145.2 L1178.4,1143.3 L1178.9,1141.3 L1179.4,1139.4 L1179.9,1137.5 L1180.4,1135.5 L1180.8,1133.6 L1181.3,1131.6 L1181.8,1129.7 L1182.3,1127.7 L1182.7,1125.8 L1183.2,1123.9 L1183.7,1121.9 L1184.1,1120.0 L1184.6,1118.0 L1185.1,1116.1 L1185.5,1114.1 L1186.0,1112.2 L1186.4,1110.2 L1186.9,1108.3 L1187.3,1106.3 L1187.8,1104.4" fill="none" stroke="#ff00ff" stroke-width="4.5" stroke-linejoin="round" stroke-linecap="round"/>
<text x="113" y="909.5" font-family="Liberation Sans, sans-serif" font-size="46" fill="#1c1c1c" stroke="#1c1c1c" stroke-width="0.6" text-anchor="end">0</text>
<text x="113" y="415.9" font-family="Liberation Sans, sans-serif" font-size="46" fill="#1c1c1c" stroke="#1c1c1c" stroke-width="0.6" text-anchor="end">2</text>
<text x="113" y="169.1" font-family="Liberation Sans, sans-serif" font-size="46" fill="#1c1c1c" stroke="#1c1c1c" stroke-width="0.6" text-anchor="end">3</text>
<path d="M372,0 L284,0 L284,560 Q252,530 200,499 Q148,469 106,452 L106,537 Q179,571 234,620 Q289,668 312,714 L372,714 Z" fill="#1c1c1c" stroke="#1c1c1c" stroke-width="12.0" transform="translate(87.4,662.7) scale(0.0460,-0.0460)"/>
<text x="338.0" y="961" font-family="Liberation Sans, sans-serif" font-size="46" fill="#1c1c1c" stroke="#1c1c1c" stroke-width="0.6" text-anchor="middle">400</text>
<text x="662.0" y="961" font-family="Liberation Sans, sans-serif" font-size="46" fill="#1c1c1c" stroke="#1c1c1c" stroke-width="0.6" text-anchor="middle">500</text>
<text x="986.0" y="961" font-family="Liberation Sans, sans-serif" font-size="46" fill="#1c1c1c" stroke="#1c1c1c" stroke-width="0.6" text-anchor="middle">600</text>
<text x="1310.0" y="961" font-family="Liberation Sans, sans-serif" font-size="46" fill="#1c1c1c" stroke="#1c1c1c" stroke-width="0.6" text-anchor="middle">700</text>
<text x="726" y="1036" font-family="Liberation Sans, sans-serif" font-size="42" font-weight="bold" fill="#111" text-anchor="middle">Wavelenght, nm</text>
<text transform="translate(57,549) rotate(-90)" font-family="Liberation Sans, sans-serif" font-size="43.5" font-weight="bold" fill="#111" text-anchor="middle">Absorbance</text>
<text x="1180" y="438" font-family="Liberation Sans, sans-serif" font-size="74" fill="#111" text-anchor="middle">(a)</text>
<path d="M372,0 L284,0 L284,560 Q252,530 200,499 Q148,469 106,452 L106,537 Q179,571 234,620 Q289,668 312,714 L372,714 Z" fill="#1c1c1c" stroke="#1c1c1c" stroke-width="12.0" transform="translate(572.2,282.0) skewX(-12) scale(0.0460,-0.0460)"/>
<text x="585" y="390" font-family="Liberation Sans, sans-serif" font-size="45" font-style="italic" fill="#1c1c1c" stroke="#1c1c1c" stroke-width="0.5" text-anchor="middle">2</text>
<text x="587" y="486" font-family="Liberation Sans, sans-serif" font-size="45" font-style="italic" fill="#1c1c1c" stroke="#1c1c1c" stroke-width="0.5" text-anchor="middle">3</text>
<text x="588" y="688" font-family="Liberation Sans, sans-serif" font-size="45" font-style="italic" fill="#1c1c1c" stroke="#1c1c1c" stroke-width="0.5" text-anchor="middle">4</text>
<text x="144" y="1901.5" font-family="Liberation Sans, sans-serif" font-size="42" fill="#333" stroke="#333" stroke-width="0.5" text-anchor="end">0</text>
<text x="144" y="1273.5" font-family="Liberation Sans, sans-serif" font-size="42" fill="#333" stroke="#333" stroke-width="0.5" text-anchor="end">2</text>
<path d="M372,0 L284,0 L284,560 Q252,530 200,499 Q148,469 106,452 L106,537 Q179,571 234,620 Q289,668 312,714 L372,714 Z" fill="#333" stroke="#333" stroke-width="13.1" transform="translate(120.6,1587.5) scale(0.0420,-0.0420)"/>
<text x="172.7" y="1950" font-family="Liberation Sans, sans-serif" font-size="41.5" fill="#333" stroke="#333" stroke-width="0.5" text-anchor="middle">1.8</text>
<text x="385.1" y="1950" font-family="Liberation Sans, sans-serif" font-size="41.5" fill="#333" stroke="#333" stroke-width="0.5" text-anchor="middle">2.0</text>
<text x="597.4" y="1950" font-family="Liberation Sans, sans-serif" font-size="41.5" fill="#333" stroke="#333" stroke-width="0.5" text-anchor="middle">2.2</text>
<text x="809.8" y="1950" font-family="Liberation Sans, sans-serif" font-size="41.5" fill="#333" stroke="#333" stroke-width="0.5" text-anchor="middle">2.4</text>
<text x="1022.1" y="1950" font-family="Liberation Sans, sans-serif" font-size="41.5" fill="#333" stroke="#333" stroke-width="0.5" text-anchor="middle">2.6</text>
<text x="1234.5" y="1950" font-family="Liberation Sans, sans-serif" font-size="41.5" fill="#333" stroke="#333" stroke-width="0.5" text-anchor="middle">2.8</text>
<text x="703" y="2022" font-family="Liberation Sans, sans-serif" font-size="41" fill="#333" text-anchor="middle">h&#957;, eV</text>
<text transform="translate(71,1531) rotate(-90)" font-family="Liberation Sans, sans-serif" font-size="43.5" fill="#333" text-anchor="middle">(&#945;h&#957;)<tspan font-size="37" dy="-24">2</tspan><tspan dy="24">, eV</tspan></text>
<text x="1174" y="1668" font-family="Liberation Sans, sans-serif" font-size="74" fill="#111" text-anchor="middle">(b)</text>
<path d="M372,0 L284,0 L284,560 Q252,530 200,499 Q148,469 106,452 L106,537 Q179,571 234,620 Q289,668 312,714 L372,714 Z" fill="#222" stroke="#222" stroke-width="13.8" transform="translate(797.9,1142.0) skewX(-12) scale(0.0400,-0.0400)"/>
<text x="943" y="1141" font-family="Liberation Sans, sans-serif" font-size="39" font-style="italic" fill="#222" stroke="#222" stroke-width="0.5" text-anchor="middle">2</text>
<text x="1026" y="1142" font-family="Liberation Sans, sans-serif" font-size="39" font-style="italic" fill="#222" stroke="#222" stroke-width="0.5" text-anchor="middle">3</text>
<text x="1156" y="1140" font-family="Liberation Sans, sans-serif" font-size="39" font-style="italic" fill="#222" stroke="#222" stroke-width="0.5" text-anchor="middle">4</text>
</svg>
</body></html>
